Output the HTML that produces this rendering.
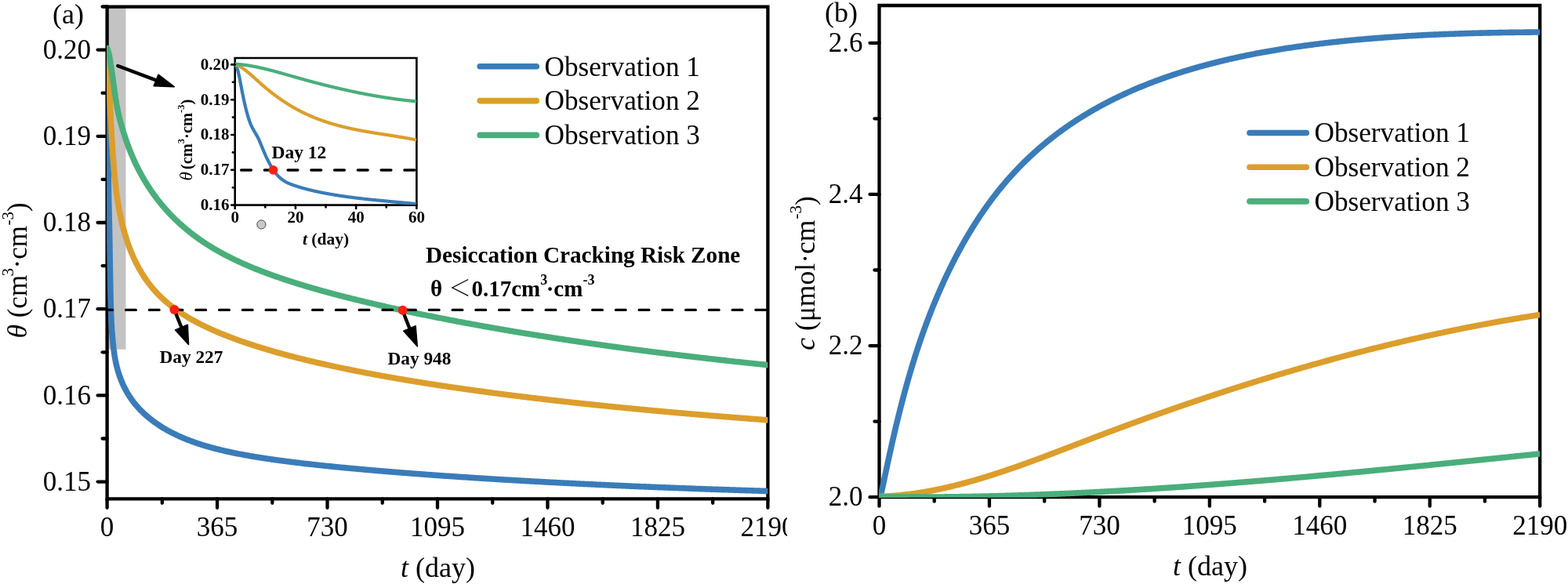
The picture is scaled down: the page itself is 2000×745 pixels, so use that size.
<!DOCTYPE html><html><head><meta charset="utf-8"><title>Figure</title><style>html,body{margin:0;padding:0;background:#fff;overflow:hidden;}svg{display:block;}text{font-family:"Liberation Serif","Times New Roman",serif;fill:#000;}</style></head><body>
<svg width="2000" height="745" viewBox="0 0 2000 745">
<rect width="2000" height="745" fill="#fff"/>
<defs><clipPath id="ca"><rect x="0" y="0" width="1004" height="745"/></clipPath><clipPath id="pa"><rect x="136.1" y="8.6" width="843.3" height="627.6999999999999"/></clipPath><clipPath id="pb"><rect x="1121.0" y="7.0" width="843.2" height="627.8000000000001"/></clipPath><clipPath id="pi"><rect x="299.3" y="74.0" width="232.1" height="187.60000000000002"/></clipPath></defs>
<g clip-path="url(#ca)">
<rect x="136.6" y="8.6" width="23.900000000000006" height="437.09999999999997" fill="#c3c3c3"/>
<path d="M136.6,636.3 V8.6 H979.4 V636.3 Z" fill="none" stroke="#000" stroke-width="4.3" stroke-linejoin="miter"/>
<g stroke="#000" stroke-width="4.3" stroke-linecap="round" fill="none">
<line x1="136.6" y1="614.60" x2="124.60" y2="614.60"/>
<line x1="136.6" y1="559.50" x2="130.60" y2="559.50"/>
<line x1="136.6" y1="504.40" x2="124.60" y2="504.40"/>
<line x1="136.6" y1="449.30" x2="130.60" y2="449.30"/>
<line x1="136.6" y1="394.20" x2="124.60" y2="394.20"/>
<line x1="136.6" y1="339.10" x2="130.60" y2="339.10"/>
<line x1="136.6" y1="284.00" x2="124.60" y2="284.00"/>
<line x1="136.6" y1="228.90" x2="130.60" y2="228.90"/>
<line x1="136.6" y1="173.80" x2="124.60" y2="173.80"/>
<line x1="136.6" y1="118.70" x2="130.60" y2="118.70"/>
<line x1="136.6" y1="63.60" x2="124.60" y2="63.60"/>
<line x1="136.6" y1="8.50" x2="130.60" y2="8.50"/>
<line x1="136.60" y1="636.3" x2="136.60" y2="647.80"/>
<line x1="206.83" y1="636.3" x2="206.83" y2="641.80"/>
<line x1="277.07" y1="636.3" x2="277.07" y2="647.80"/>
<line x1="347.30" y1="636.3" x2="347.30" y2="641.80"/>
<line x1="417.53" y1="636.3" x2="417.53" y2="647.80"/>
<line x1="487.77" y1="636.3" x2="487.77" y2="641.80"/>
<line x1="558.00" y1="636.3" x2="558.00" y2="647.80"/>
<line x1="628.23" y1="636.3" x2="628.23" y2="641.80"/>
<line x1="698.47" y1="636.3" x2="698.47" y2="647.80"/>
<line x1="768.70" y1="636.3" x2="768.70" y2="641.80"/>
<line x1="838.93" y1="636.3" x2="838.93" y2="647.80"/>
<line x1="909.17" y1="636.3" x2="909.17" y2="641.80"/>
<line x1="979.40" y1="636.3" x2="979.40" y2="647.80"/>
</g>
<g fill="none" stroke-width="7.6" stroke-linejoin="round" stroke-linecap="round" clip-path="url(#pa)">
<path d="M136.60,64.33 L136.65,64.52 L136.70,65.46 L136.74,67.10 L136.79,69.39 L136.84,72.28 L136.89,75.73 L136.94,79.67 L136.98,84.07 L137.03,88.88 L137.08,94.04 L137.13,99.51 L137.18,105.24 L137.23,111.17 L137.27,117.27 L137.32,123.48 L137.37,129.75 L137.42,136.03 L137.47,142.27 L137.51,148.43 L137.56,154.47 L137.61,160.38 L137.66,166.16 L137.71,171.81 L137.75,177.33 L137.80,182.71 L137.85,187.95 L137.90,193.05 L137.95,198.02 L138.00,202.85 L138.04,207.53 L138.09,212.07 L138.14,216.46 L138.19,220.70 L138.24,224.80 L138.28,228.75 L138.33,232.54 L138.38,236.18 L138.43,239.67 L138.48,243.00 L138.52,246.17 L138.57,249.18 L138.62,252.03 L138.67,254.74 L138.72,257.31 L138.76,259.76 L138.81,262.10 L138.86,264.35 L138.91,266.52 L138.96,268.62 L139.01,270.67 L139.05,272.68 L139.10,274.66 L139.15,276.63 L139.20,278.60 L139.25,280.58 L139.29,282.60 L139.34,284.65 L139.39,286.76 L139.44,288.94 L139.49,291.19 L139.53,293.55 L139.58,296.00 L139.63,298.55 L139.68,301.18 L139.73,303.89 L139.77,306.69 L139.82,309.55 L139.87,312.48 L139.92,315.45 L139.97,318.46 L140.02,321.49 L140.06,324.53 L140.11,327.56 L140.16,330.58 L140.21,333.57 L140.26,336.52 L140.30,339.44 L140.35,342.32 L140.40,345.16 L140.45,347.96 L140.50,350.71 L140.54,353.42 L140.59,356.08 L140.64,358.68 L140.69,361.24 L140.74,363.74 L140.79,366.19 L140.83,368.58 L140.88,370.92 L140.93,373.20 L140.98,375.42 L141.03,377.58 L141.07,379.69 L141.12,381.73 L141.17,383.72 L141.22,385.64 L141.27,387.51 L141.31,389.32 L141.36,391.07 L141.41,392.76 L141.46,394.39 L141.51,395.97 L141.55,397.48 L141.60,398.95 L141.65,400.36 L141.70,401.72 L141.75,403.04 L141.80,404.30 L141.84,405.52 L141.89,406.70 L141.94,407.83 L141.99,408.92 L142.04,409.98 L142.08,410.99 L142.13,411.97 L142.18,412.92 L142.23,413.84 L142.28,414.72 L142.32,415.58 L142.37,416.40 L142.42,417.20 L142.47,417.98 L142.52,418.74 L142.57,419.47 L142.61,420.18 L142.66,420.87 L142.71,421.55 L142.76,422.21 L142.81,422.85 L142.85,423.48 L142.90,424.09 L142.95,424.70 L143.00,425.29 L143.05,425.87 L143.09,426.44 L143.14,427.00 L143.19,427.56 L143.24,428.10 L143.29,428.64 L143.33,429.18 L143.38,429.71 L143.43,430.23 L143.48,430.75 L143.53,431.26 L143.58,431.77 L143.62,432.27 L143.67,432.78 L143.72,433.28 L143.77,433.77 L143.82,434.26 L143.86,434.75 L143.91,435.24 L143.96,435.72 L144.01,436.20 L144.06,436.68 L144.10,437.16 L144.15,437.63 L144.20,438.10 L144.25,438.57 L144.30,439.04 L144.34,439.50 L144.39,439.96 L144.44,440.41 L144.49,440.85 L144.54,441.29 L144.59,441.73 L144.63,442.16 L144.68,442.58 L144.73,443.00 L144.78,443.41 L144.83,443.82 L144.87,444.23 L144.92,444.63 L144.97,445.02 L145.02,445.41 L145.07,445.80 L145.11,446.18 L145.16,446.56 L145.21,446.93 L145.26,447.30 L145.31,447.67 L145.36,448.03 L145.40,448.39 L145.45,448.74 L145.50,449.09 L145.55,449.44 L145.60,449.78 L145.64,450.12 L145.69,450.46 L145.74,450.79 L145.79,451.12 L145.84,451.44 L145.88,451.77 L145.93,452.09 L145.98,452.40 L146.03,452.71 L146.08,453.02 L146.12,453.33 L146.17,453.64 L146.22,453.94 L146.27,454.24 L146.32,454.53 L146.37,454.83 L146.41,455.12 L146.46,455.40 L146.51,455.69 L146.56,455.97 L146.61,456.25 L146.65,456.53 L146.70,456.80 L146.75,457.08 L146.80,457.35 L146.85,457.61 L146.89,457.88 L146.94,458.14 L146.99,458.41 L147.04,458.66 L147.09,458.92 L147.13,459.18 L147.18,459.43 L147.23,459.68 L147.28,459.93 L147.33,460.18 L147.38,460.42 L147.42,460.66 L147.47,460.91 L147.52,461.15 L147.57,461.38 L147.62,461.62 L147.66,461.85 L147.71,462.09 L147.76,462.32 L147.81,462.54 L147.86,462.77 L147.90,463.00 L147.95,463.22 L148.00,463.44 L148.05,463.67 L148.10,463.88 L148.15,464.10 L148.19,464.32 L148.24,464.53 L148.29,464.75 L148.34,464.96 L148.39,465.17 L148.43,465.38 L148.48,465.59 L148.53,465.79 L148.58,466.00 L148.63,466.20 L148.67,466.41 L148.72,466.61 L148.77,466.81 L148.82,467.01 L148.87,467.20 L148.91,467.40 L148.96,467.60 L149.01,467.79 L149.06,467.98 L149.11,468.17 L149.16,468.37 L149.20,468.56 L149.25,468.74 L149.30,468.93 L149.35,469.12 L149.40,469.30 L149.44,469.49 L149.49,469.67 L149.54,469.85 L149.59,470.03 L149.64,470.21 L149.68,470.39 L149.73,470.57 L149.78,470.75 L149.83,470.93 L149.88,471.10 L149.93,471.28 L149.97,471.45 L150.02,471.62 L150.07,471.80 L150.12,471.97 L150.17,472.14 L150.21,472.31 L150.26,472.48 L150.31,472.64 L150.36,472.81 L150.41,472.98 L150.45,473.14 L150.50,473.31 L150.55,473.47 L150.60,473.63 L150.65,473.80 L150.69,473.96 L150.74,474.12 L150.79,474.28 L150.84,474.44 L150.89,474.60 L150.94,474.76 L150.98,474.91 L151.03,475.07 L151.08,475.23 L151.13,475.38 L151.18,475.54 L151.22,475.69 L151.27,475.84 L151.32,476.00 L151.37,476.15 L151.42,476.30 L151.46,476.45 L151.51,476.60 L151.56,476.75 L151.61,476.90 L151.66,477.05 L151.70,477.19 L151.75,477.34 L151.80,477.49 L151.85,477.63 L151.90,477.78 L151.95,477.92 L151.99,478.07 L152.04,478.21 L152.09,478.35 L152.14,478.50 L152.19,478.64 L152.23,478.78 L152.28,478.92 L152.33,479.06 L152.38,479.20 L152.43,479.34 L152.47,479.48 L152.52,479.62 L152.57,479.76 L152.62,479.89 L152.67,480.03 L152.72,480.17 L152.76,480.30 L152.81,480.44 L152.86,480.57 L152.91,480.71 L152.96,480.84 L153.00,480.98 L153.05,481.11 L153.10,481.24 L153.15,481.37 L153.20,481.51 L153.24,481.64 L153.29,481.77 L153.34,481.90 L153.39,482.03 L153.44,482.16 L153.48,482.29 L153.53,482.42 L153.58,482.54 L153.63,482.67 L153.68,482.80 L153.73,482.93 L153.77,483.05 L153.82,483.18 L153.87,483.31 L153.92,483.43 L153.97,483.56 L154.01,483.68 L154.06,483.81 L154.11,483.93 L154.16,484.05 L154.21,484.18 L154.25,484.30 L154.30,484.42 L154.35,484.54 L154.40,484.67 L154.45,484.79 L154.50,484.91 L154.54,485.03 L154.59,485.15 L154.64,485.27 L154.69,485.39 L154.74,485.51 L154.78,485.63 L154.83,485.74 L154.88,485.86 L154.93,485.98 L154.98,486.10 L155.02,486.22 L155.07,486.33 L155.12,486.45 L155.17,486.56 L155.22,486.68 L155.26,486.80 L155.31,486.91 L155.36,487.03 L155.41,487.14 L155.46,487.25 L155.51,487.37 L155.55,487.48 L155.60,487.60 L155.65,487.71 L155.70,487.82 L155.75,487.93 L155.79,488.05 L155.84,488.16 L155.89,488.27 L155.94,488.38 L155.99,488.49 L156.03,488.60 L156.08,488.71 L156.13,488.82 L156.18,488.93 L156.23,489.04 L156.27,489.15 L156.32,489.26 L156.37,489.37 L156.42,489.48 L156.47,489.58 L156.52,489.69 L156.56,489.80 L156.61,489.91 L156.66,490.01 L156.71,490.12 L156.76,490.23 L156.80,490.33 L156.85,490.44 L156.90,490.54 L156.95,490.65 L157.00,490.75 L157.04,490.86 L157.09,490.96 L157.14,491.07 L157.19,491.17 L157.24,491.27 L157.29,491.38 L157.33,491.48 L157.38,491.58 L157.43,491.69 L157.48,491.79 L157.53,491.89 L157.57,491.99 L157.62,492.10 L157.67,492.20 L157.72,492.30 L157.77,492.40 L157.81,492.50 L157.86,492.60 L157.91,492.70 L157.96,492.80 L158.01,492.90 L158.05,493.00 L158.10,493.10 L158.15,493.20 L158.20,493.30 L158.25,493.40 L158.30,493.49 L158.34,493.59 L158.39,493.69 L158.44,493.79 L158.49,493.89 L158.54,493.98 L158.58,494.08 L158.63,494.18 L158.68,494.27 L158.73,494.37 L158.78,494.47 L158.82,494.56 L158.87,494.66 L158.92,494.75 L158.97,494.85 L159.02,494.94 L159.07,495.04 L159.11,495.13 L159.16,495.23 L159.21,495.32 L159.26,495.42 L159.31,495.51 L159.35,495.60 L159.40,495.70 L159.45,495.79 L159.50,495.88 L159.55,495.98 L159.59,496.07 L159.64,496.16 L159.69,496.25 L159.88,496.62 L161.06,498.79 L162.23,500.86 L163.40,502.82 L164.57,504.71 L165.74,506.51 L166.92,508.24 L168.09,509.90 L169.26,511.50 L170.43,513.05 L171.61,514.54 L172.78,515.98 L173.95,517.37 L175.12,518.72 L176.30,520.03 L177.47,521.30 L178.64,522.54 L179.81,523.74 L180.99,524.91 L182.16,526.05 L183.33,527.17 L184.50,528.25 L185.68,529.31 L186.85,530.34 L188.02,531.35 L189.19,532.34 L190.37,533.31 L191.54,534.25 L192.71,535.18 L193.88,536.08 L195.06,536.97 L196.23,537.84 L197.40,538.69 L198.57,539.53 L199.74,540.35 L200.92,541.15 L202.09,541.94 L203.26,542.72 L204.43,543.48 L205.61,544.22 L206.78,544.96 L207.95,545.67 L209.12,546.38 L210.30,547.08 L211.47,547.76 L212.64,548.43 L213.81,549.09 L214.99,549.73 L216.16,550.37 L217.33,550.99 L218.50,551.61 L219.68,552.21 L220.85,552.81 L222.02,553.39 L223.19,553.97 L224.37,554.54 L225.54,555.09 L226.71,555.64 L227.88,556.18 L229.06,556.71 L230.23,557.23 L231.40,557.75 L232.57,558.25 L233.74,558.75 L234.92,559.24 L236.09,559.73 L237.26,560.20 L238.43,560.67 L239.61,561.13 L240.78,561.59 L241.95,562.04 L243.12,562.48 L244.30,562.91 L245.47,563.34 L246.64,563.76 L247.81,564.18 L248.99,564.59 L250.16,564.99 L251.33,565.39 L252.50,565.79 L253.68,566.17 L254.85,566.55 L256.02,566.93 L257.19,567.30 L258.37,567.67 L259.54,568.03 L260.71,568.39 L261.88,568.74 L263.06,569.09 L264.23,569.43 L265.40,569.77 L266.57,570.10 L267.74,570.43 L268.92,570.76 L270.09,571.08 L271.26,571.40 L272.43,571.71 L273.61,572.02 L274.78,572.32 L275.95,572.63 L277.12,572.92 L278.30,573.22 L279.47,573.51 L280.64,573.80 L281.81,574.08 L282.99,574.36 L284.16,574.64 L285.33,574.91 L286.50,575.18 L287.68,575.45 L288.85,575.72 L290.02,575.98 L291.19,576.24 L292.37,576.49 L293.54,576.75 L294.71,577.00 L295.88,577.24 L297.06,577.49 L298.23,577.73 L299.40,577.97 L300.57,578.21 L301.74,578.45 L302.92,578.68 L304.09,578.91 L305.26,579.14 L306.43,579.36 L307.61,579.59 L308.78,579.81 L309.95,580.03 L311.12,580.24 L312.30,580.46 L313.47,580.67 L314.64,580.88 L315.81,581.09 L316.99,581.30 L318.16,581.51 L319.33,581.71 L320.50,581.91 L321.68,582.11 L322.85,582.31 L324.02,582.51 L325.19,582.70 L326.37,582.89 L327.54,583.08 L328.71,583.27 L329.88,583.46 L331.06,583.65 L332.23,583.83 L333.40,584.02 L334.57,584.20 L335.74,584.38 L336.92,584.56 L338.09,584.74 L339.26,584.92 L340.43,585.09 L341.61,585.27 L342.78,585.44 L343.95,585.61 L345.12,585.78 L346.30,585.95 L347.47,586.12 L348.64,586.28 L349.81,586.45 L350.99,586.61 L352.16,586.78 L353.33,586.94 L354.50,587.10 L355.68,587.26 L356.85,587.42 L358.02,587.57 L359.19,587.73 L360.37,587.89 L361.54,588.04 L362.71,588.19 L363.88,588.35 L365.06,588.50 L366.23,588.65 L367.40,588.80 L368.57,588.95 L369.74,589.10 L370.92,589.24 L372.09,589.39 L373.26,589.54 L374.43,589.68 L375.61,589.82 L376.78,589.97 L377.95,590.11 L379.12,590.25 L380.30,590.39 L381.47,590.53 L382.64,590.67 L383.81,590.81 L384.99,590.95 L386.16,591.08 L387.33,591.22 L388.50,591.36 L389.68,591.49 L390.85,591.62 L392.02,591.76 L393.19,591.89 L394.37,592.02 L395.54,592.15 L396.71,592.29 L397.88,592.42 L399.06,592.54 L400.23,592.67 L401.40,592.80 L402.57,592.93 L403.74,593.06 L404.92,593.18 L406.09,593.31 L407.26,593.44 L408.43,593.56 L409.61,593.68 L410.78,593.81 L411.95,593.93 L413.12,594.05 L414.30,594.18 L415.47,594.30 L416.64,594.42 L417.81,594.54 L418.99,594.66 L420.16,594.78 L421.33,594.90 L422.50,595.02 L423.68,595.14 L424.85,595.25 L426.02,595.37 L427.19,595.49 L428.37,595.60 L429.54,595.72 L430.71,595.84 L431.88,595.95 L433.06,596.07 L434.23,596.18 L435.40,596.29 L436.57,596.41 L437.74,596.52 L438.92,596.63 L440.09,596.74 L441.26,596.86 L442.43,596.97 L443.61,597.08 L444.78,597.19 L445.95,597.30 L447.12,597.41 L448.30,597.52 L449.47,597.63 L450.64,597.73 L451.81,597.84 L452.99,597.95 L454.16,598.06 L455.33,598.16 L456.50,598.27 L457.68,598.38 L458.85,598.48 L460.02,598.59 L461.19,598.69 L462.37,598.80 L463.54,598.90 L464.71,599.01 L465.88,599.11 L467.06,599.22 L468.23,599.32 L469.40,599.42 L470.57,599.52 L471.74,599.63 L472.92,599.73 L474.09,599.83 L475.26,599.93 L476.43,600.03 L477.61,600.13 L478.78,600.23 L479.95,600.33 L481.12,600.43 L482.30,600.53 L483.47,600.63 L484.64,600.73 L485.81,600.83 L486.99,600.93 L488.16,601.03 L489.33,601.12 L490.50,601.22 L491.68,601.32 L492.85,601.41 L494.02,601.51 L495.19,601.61 L496.37,601.70 L497.54,601.80 L498.71,601.89 L499.88,601.99 L501.06,602.08 L502.23,602.18 L503.40,602.27 L504.57,602.37 L505.74,602.46 L506.92,602.55 L508.09,602.65 L509.26,602.74 L510.43,602.83 L511.61,602.93 L512.78,603.02 L513.95,603.11 L515.12,603.20 L516.30,603.29 L517.47,603.39 L518.64,603.48 L519.81,603.57 L520.99,603.66 L522.16,603.75 L523.33,603.84 L524.50,603.93 L525.68,604.02 L526.85,604.11 L528.02,604.20 L529.19,604.28 L530.37,604.37 L531.54,604.46 L532.71,604.55 L533.88,604.64 L535.06,604.73 L536.23,604.81 L537.40,604.90 L538.57,604.99 L539.74,605.07 L540.92,605.16 L542.09,605.25 L543.26,605.33 L544.43,605.42 L545.61,605.50 L546.78,605.59 L547.95,605.67 L549.12,605.76 L550.30,605.84 L551.47,605.93 L552.64,606.01 L553.81,606.10 L554.99,606.18 L556.16,606.26 L557.33,606.35 L558.50,606.43 L559.68,606.51 L560.85,606.60 L562.02,606.68 L563.19,606.76 L564.37,606.84 L565.54,606.93 L566.71,607.01 L567.88,607.09 L569.06,607.17 L570.23,607.25 L571.40,607.33 L572.57,607.41 L573.74,607.50 L574.92,607.58 L576.09,607.66 L577.26,607.74 L578.43,607.82 L579.61,607.90 L580.78,607.97 L581.95,608.05 L583.12,608.13 L584.30,608.21 L585.47,608.29 L586.64,608.37 L587.81,608.45 L588.99,608.52 L590.16,608.60 L591.33,608.68 L592.50,608.76 L593.68,608.83 L594.85,608.91 L596.02,608.99 L597.19,609.07 L598.37,609.14 L599.54,609.22 L600.71,609.29 L601.88,609.37 L603.06,609.45 L604.23,609.52 L605.40,609.60 L606.57,609.67 L607.74,609.75 L608.92,609.82 L610.09,609.90 L611.26,609.97 L612.43,610.05 L613.61,610.12 L614.78,610.19 L615.95,610.27 L617.12,610.34 L618.30,610.41 L619.47,610.49 L620.64,610.56 L621.81,610.63 L622.99,610.71 L624.16,610.78 L625.33,610.85 L626.50,610.92 L627.68,611.00 L628.85,611.07 L630.02,611.14 L631.19,611.21 L632.37,611.28 L633.54,611.35 L634.71,611.42 L635.88,611.50 L637.06,611.57 L638.23,611.64 L639.40,611.71 L640.57,611.78 L641.74,611.85 L642.92,611.92 L644.09,611.99 L645.26,612.06 L646.43,612.13 L647.61,612.19 L648.78,612.26 L649.95,612.33 L651.12,612.40 L652.30,612.47 L653.47,612.54 L654.64,612.61 L655.81,612.67 L656.99,612.74 L658.16,612.81 L659.33,612.88 L660.50,612.94 L661.68,613.01 L662.85,613.08 L664.02,613.15 L665.19,613.21 L666.37,613.28 L667.54,613.35 L668.71,613.41 L669.88,613.48 L671.06,613.54 L672.23,613.61 L673.40,613.67 L674.57,613.74 L675.74,613.81 L676.92,613.87 L678.09,613.94 L679.26,614.00 L680.43,614.07 L681.61,614.13 L682.78,614.19 L683.95,614.26 L685.12,614.32 L686.30,614.39 L687.47,614.45 L688.64,614.51 L689.81,614.58 L690.99,614.64 L692.16,614.70 L693.33,614.77 L694.50,614.83 L695.68,614.89 L696.85,614.96 L698.02,615.02 L699.19,615.08 L700.37,615.14 L701.54,615.20 L702.71,615.27 L703.88,615.33 L705.06,615.39 L706.23,615.45 L707.40,615.51 L708.57,615.57 L709.74,615.63 L710.92,615.70 L712.09,615.76 L713.26,615.82 L714.43,615.88 L715.61,615.94 L716.78,616.00 L717.95,616.06 L719.12,616.12 L720.30,616.18 L721.47,616.24 L722.64,616.30 L723.81,616.36 L724.99,616.41 L726.16,616.47 L727.33,616.53 L728.50,616.59 L729.68,616.65 L730.85,616.71 L732.02,616.77 L733.19,616.82 L734.37,616.88 L735.54,616.94 L736.71,617.00 L737.88,617.06 L739.06,617.11 L740.23,617.17 L741.40,617.23 L742.57,617.29 L743.74,617.34 L744.92,617.40 L746.09,617.46 L747.26,617.51 L748.43,617.57 L749.61,617.63 L750.78,617.68 L751.95,617.74 L753.12,617.79 L754.30,617.85 L755.47,617.91 L756.64,617.96 L757.81,618.02 L758.99,618.07 L760.16,618.13 L761.33,618.18 L762.50,618.24 L763.68,618.29 L764.85,618.35 L766.02,618.40 L767.19,618.45 L768.37,618.51 L769.54,618.56 L770.71,618.62 L771.88,618.67 L773.06,618.72 L774.23,618.78 L775.40,618.83 L776.57,618.89 L777.74,618.94 L778.92,618.99 L780.09,619.04 L781.26,619.10 L782.43,619.15 L783.61,619.20 L784.78,619.26 L785.95,619.31 L787.12,619.36 L788.30,619.41 L789.47,619.46 L790.64,619.52 L791.81,619.57 L792.99,619.62 L794.16,619.67 L795.33,619.72 L796.50,619.77 L797.68,619.82 L798.85,619.88 L800.02,619.93 L801.19,619.98 L802.37,620.03 L803.54,620.08 L804.71,620.13 L805.88,620.18 L807.06,620.23 L808.23,620.28 L809.40,620.33 L810.57,620.38 L811.74,620.43 L812.92,620.48 L814.09,620.53 L815.26,620.58 L816.43,620.63 L817.61,620.68 L818.78,620.73 L819.95,620.77 L821.12,620.82 L822.30,620.87 L823.47,620.92 L824.64,620.97 L825.81,621.02 L826.99,621.07 L828.16,621.11 L829.33,621.16 L830.50,621.21 L831.68,621.26 L832.85,621.31 L834.02,621.35 L835.19,621.40 L836.37,621.45 L837.54,621.49 L838.71,621.54 L839.88,621.59 L841.06,621.64 L842.23,621.68 L843.40,621.73 L844.57,621.78 L845.74,621.82 L846.92,621.87 L848.09,621.92 L849.26,621.96 L850.43,622.01 L851.61,622.05 L852.78,622.10 L853.95,622.15 L855.12,622.19 L856.30,622.24 L857.47,622.28 L858.64,622.33 L859.81,622.37 L860.99,622.42 L862.16,622.46 L863.33,622.51 L864.50,622.55 L865.68,622.60 L866.85,622.64 L868.02,622.69 L869.19,622.73 L870.37,622.77 L871.54,622.82 L872.71,622.86 L873.88,622.91 L875.06,622.95 L876.23,622.99 L877.40,623.04 L878.57,623.08 L879.74,623.12 L880.92,623.17 L882.09,623.21 L883.26,623.25 L884.43,623.30 L885.61,623.34 L886.78,623.38 L887.95,623.43 L889.12,623.47 L890.30,623.51 L891.47,623.55 L892.64,623.60 L893.81,623.64 L894.99,623.68 L896.16,623.72 L897.33,623.76 L898.50,623.81 L899.68,623.85 L900.85,623.89 L902.02,623.93 L903.19,623.97 L904.37,624.01 L905.54,624.06 L906.71,624.10 L907.88,624.14 L909.06,624.18 L910.23,624.22 L911.40,624.26 L912.57,624.30 L913.74,624.34 L914.92,624.38 L916.09,624.42 L917.26,624.46 L918.43,624.50 L919.61,624.54 L920.78,624.58 L921.95,624.62 L923.12,624.66 L924.30,624.70 L925.47,624.74 L926.64,624.78 L927.81,624.82 L928.99,624.86 L930.16,624.90 L931.33,624.94 L932.50,624.98 L933.68,625.02 L934.85,625.06 L936.02,625.09 L937.19,625.13 L938.37,625.17 L939.54,625.21 L940.71,625.25 L941.88,625.29 L943.06,625.33 L944.23,625.36 L945.40,625.40 L946.57,625.44 L947.74,625.48 L948.92,625.52 L950.09,625.55 L951.26,625.59 L952.43,625.63 L953.61,625.67 L954.78,625.70 L955.95,625.74 L957.12,625.78 L958.30,625.82 L959.47,625.85 L960.64,625.89 L961.81,625.93 L962.99,625.96 L964.16,626.00 L965.33,626.04 L966.50,626.07 L967.68,626.11 L968.85,626.15 L970.02,626.18 L971.19,626.22 L972.37,626.25 L973.54,626.29 L974.71,626.33 L975.88,626.36 L977.06,626.40 L978.23,626.43 L979.40,626.47" stroke="#3a7cb9"/>
<path d="M136.60,62.60 L136.65,63.02 L136.70,63.46 L136.74,63.92 L136.79,64.40 L136.84,64.91 L136.89,65.43 L136.94,65.98 L136.98,66.55 L137.03,67.14 L137.08,67.75 L137.13,68.38 L137.18,69.03 L137.23,69.70 L137.27,70.38 L137.32,71.08 L137.37,71.80 L137.42,72.54 L137.47,73.30 L137.51,74.07 L137.56,74.85 L137.61,75.66 L137.66,76.47 L137.71,77.30 L137.75,78.15 L137.80,79.01 L137.85,79.88 L137.90,80.77 L137.95,81.66 L138.00,82.57 L138.04,83.50 L138.09,84.43 L138.14,85.37 L138.19,86.33 L138.24,87.29 L138.28,88.26 L138.33,89.25 L138.38,90.24 L138.43,91.24 L138.48,92.24 L138.52,93.26 L138.57,94.28 L138.62,95.31 L138.67,96.35 L138.72,97.39 L138.76,98.43 L138.81,99.48 L138.86,100.54 L138.91,101.60 L138.96,102.66 L139.01,103.73 L139.05,104.80 L139.10,105.87 L139.15,106.95 L139.20,108.02 L139.25,109.10 L139.29,110.18 L139.34,111.26 L139.39,112.34 L139.44,113.41 L139.49,114.49 L139.53,115.57 L139.58,116.64 L139.63,117.71 L139.68,118.78 L139.73,119.85 L139.77,120.91 L139.82,121.97 L139.87,123.03 L139.92,124.08 L139.97,125.13 L140.02,126.17 L140.06,127.21 L140.11,128.24 L140.16,129.27 L140.21,130.30 L140.26,131.32 L140.30,132.34 L140.35,133.35 L140.40,134.36 L140.45,135.36 L140.50,136.36 L140.54,137.36 L140.59,138.35 L140.64,139.34 L140.69,140.32 L140.74,141.30 L140.79,142.27 L140.83,143.24 L140.88,144.20 L140.93,145.17 L140.98,146.12 L141.03,147.07 L141.07,148.02 L141.12,148.97 L141.17,149.90 L141.22,150.84 L141.27,151.77 L141.31,152.70 L141.36,153.62 L141.41,154.54 L141.46,155.45 L141.51,156.36 L141.55,157.26 L141.60,158.16 L141.65,159.06 L141.70,159.95 L141.75,160.84 L141.80,161.72 L141.84,162.60 L141.89,163.47 L141.94,164.34 L141.99,165.21 L142.04,166.07 L142.08,166.92 L142.13,167.78 L142.18,168.63 L142.23,169.47 L142.28,170.31 L142.32,171.14 L142.37,171.97 L142.42,172.80 L142.47,173.62 L142.52,174.45 L142.57,175.26 L142.61,176.08 L142.66,176.89 L142.71,177.70 L142.76,178.51 L142.81,179.31 L142.85,180.11 L142.90,180.91 L142.95,181.70 L143.00,182.49 L143.05,183.27 L143.09,184.05 L143.14,184.83 L143.19,185.60 L143.24,186.37 L143.29,187.14 L143.33,187.90 L143.38,188.66 L143.43,189.41 L143.48,190.16 L143.53,190.91 L143.58,191.65 L143.62,192.39 L143.67,193.12 L143.72,193.85 L143.77,194.57 L143.82,195.29 L143.86,196.01 L143.91,196.72 L143.96,197.42 L144.01,198.13 L144.06,198.83 L144.10,199.52 L144.15,200.21 L144.20,200.89 L144.25,201.57 L144.30,202.25 L144.34,202.92 L144.39,203.59 L144.44,204.25 L144.49,204.91 L144.54,205.56 L144.59,206.21 L144.63,206.85 L144.68,207.49 L144.73,208.13 L144.78,208.76 L144.83,209.39 L144.87,210.01 L144.92,210.62 L144.97,211.24 L145.02,211.84 L145.07,212.45 L145.11,213.05 L145.16,213.64 L145.21,214.23 L145.26,214.82 L145.31,215.40 L145.36,215.98 L145.40,216.55 L145.45,217.12 L145.50,217.68 L145.55,218.24 L145.60,218.80 L145.64,219.35 L145.69,219.89 L145.74,220.44 L145.79,220.97 L145.84,221.51 L145.88,222.04 L145.93,222.56 L145.98,223.08 L146.03,223.60 L146.08,224.11 L146.12,224.62 L146.17,225.13 L146.22,225.63 L146.27,226.13 L146.32,226.62 L146.37,227.11 L146.41,227.60 L146.46,228.08 L146.51,228.56 L146.56,229.03 L146.61,229.50 L146.65,229.97 L146.70,230.43 L146.75,230.89 L146.80,231.35 L146.85,231.80 L146.89,232.25 L146.94,232.69 L146.99,233.14 L147.04,233.57 L147.09,234.01 L147.13,234.44 L147.18,234.87 L147.23,235.30 L147.28,235.72 L147.33,236.14 L147.38,236.55 L147.42,236.97 L147.47,237.38 L147.52,237.78 L147.57,238.19 L147.62,238.59 L147.66,238.99 L147.71,239.38 L147.76,239.77 L147.81,240.16 L147.86,240.55 L147.90,240.93 L147.95,241.31 L148.00,241.69 L148.05,242.07 L148.10,242.44 L148.15,242.82 L148.19,243.18 L148.24,243.55 L148.29,243.91 L148.34,244.28 L148.39,244.64 L148.43,244.99 L148.48,245.35 L148.53,245.70 L148.58,246.05 L148.63,246.40 L148.67,246.75 L148.72,247.09 L148.77,247.43 L148.82,247.77 L148.87,248.11 L148.91,248.45 L148.96,248.78 L149.01,249.11 L149.06,249.45 L149.11,249.77 L149.16,250.10 L149.20,250.43 L149.25,250.75 L149.30,251.07 L149.35,251.39 L149.40,251.71 L149.44,252.03 L149.49,252.35 L149.54,252.66 L149.59,252.97 L149.64,253.29 L149.68,253.60 L149.73,253.90 L149.78,254.21 L149.83,254.52 L149.88,254.82 L149.93,255.13 L149.97,255.43 L150.02,255.73 L150.07,256.03 L150.12,256.33 L150.17,256.62 L150.21,256.92 L150.26,257.22 L150.31,257.51 L150.36,257.80 L150.41,258.09 L150.45,258.38 L150.50,258.67 L150.55,258.96 L150.60,259.25 L150.65,259.54 L150.69,259.82 L150.74,260.11 L150.79,260.39 L150.84,260.67 L150.89,260.95 L150.94,261.23 L150.98,261.51 L151.03,261.79 L151.08,262.07 L151.13,262.35 L151.18,262.62 L151.22,262.90 L151.27,263.17 L151.32,263.44 L151.37,263.72 L151.42,263.99 L151.46,264.26 L151.51,264.53 L151.56,264.80 L151.61,265.07 L151.66,265.33 L151.70,265.60 L151.75,265.86 L151.80,266.13 L151.85,266.39 L151.90,266.65 L151.95,266.92 L151.99,267.18 L152.04,267.44 L152.09,267.70 L152.14,267.96 L152.19,268.21 L152.23,268.47 L152.28,268.72 L152.33,268.98 L152.38,269.23 L152.43,269.48 L152.47,269.74 L152.52,269.99 L152.57,270.24 L152.62,270.49 L152.67,270.73 L152.72,270.98 L152.76,271.23 L152.81,271.47 L152.86,271.72 L152.91,271.96 L152.96,272.21 L153.00,272.45 L153.05,272.69 L153.10,272.93 L153.15,273.17 L153.20,273.41 L153.24,273.65 L153.29,273.88 L153.34,274.12 L153.39,274.36 L153.44,274.59 L153.48,274.82 L153.53,275.06 L153.58,275.29 L153.63,275.52 L153.68,275.75 L153.73,275.98 L153.77,276.21 L153.82,276.44 L153.87,276.67 L153.92,276.89 L153.97,277.12 L154.01,277.35 L154.06,277.57 L154.11,277.80 L154.16,278.02 L154.21,278.24 L154.25,278.46 L154.30,278.68 L154.35,278.91 L154.40,279.13 L154.45,279.34 L154.50,279.56 L154.54,279.78 L154.59,280.00 L154.64,280.21 L154.69,280.43 L154.74,280.64 L154.78,280.86 L154.83,281.07 L154.88,281.28 L154.93,281.50 L154.98,281.71 L155.02,281.92 L155.07,282.13 L155.12,282.34 L155.17,282.55 L155.22,282.76 L155.26,282.96 L155.31,283.17 L155.36,283.38 L155.41,283.58 L155.46,283.79 L155.51,283.99 L155.55,284.20 L155.60,284.40 L155.65,284.60 L155.70,284.81 L155.75,285.01 L155.79,285.21 L155.84,285.41 L155.89,285.61 L155.94,285.81 L155.99,286.01 L156.03,286.20 L156.08,286.40 L156.13,286.60 L156.18,286.79 L156.23,286.99 L156.27,287.19 L156.32,287.38 L156.37,287.57 L156.42,287.77 L156.47,287.96 L156.52,288.15 L156.56,288.34 L156.61,288.54 L156.66,288.73 L156.71,288.92 L156.76,289.11 L156.80,289.30 L156.85,289.48 L156.90,289.67 L156.95,289.86 L157.00,290.05 L157.04,290.23 L157.09,290.42 L157.14,290.60 L157.19,290.79 L157.24,290.97 L157.29,291.16 L157.33,291.34 L157.38,291.52 L157.43,291.71 L157.48,291.89 L157.53,292.07 L157.57,292.25 L157.62,292.43 L157.67,292.61 L157.72,292.79 L157.77,292.97 L157.81,293.15 L157.86,293.33 L157.91,293.50 L157.96,293.68 L158.01,293.86 L158.05,294.03 L158.10,294.21 L158.15,294.39 L158.20,294.56 L158.25,294.74 L158.30,294.91 L158.34,295.08 L158.39,295.26 L158.44,295.43 L158.49,295.60 L158.54,295.77 L158.58,295.94 L158.63,296.11 L158.68,296.28 L158.73,296.45 L158.78,296.62 L158.82,296.79 L158.87,296.96 L158.92,297.13 L158.97,297.30 L159.02,297.47 L159.07,297.63 L159.11,297.80 L159.16,297.97 L159.21,298.13 L159.26,298.30 L159.31,298.46 L159.35,298.63 L159.40,298.79 L159.45,298.96 L159.50,299.12 L159.55,299.28 L159.59,299.44 L159.64,299.61 L159.69,299.77 L159.88,300.41 L161.06,304.21 L162.23,307.80 L163.40,311.21 L164.57,314.46 L165.74,317.56 L166.92,320.53 L168.09,323.37 L169.26,326.10 L170.43,328.73 L171.61,331.25 L172.78,333.69 L173.95,336.04 L175.12,338.31 L176.30,340.51 L177.47,342.64 L178.64,344.70 L179.81,346.69 L180.99,348.63 L182.16,350.51 L183.33,352.34 L184.50,354.11 L185.68,355.83 L186.85,357.51 L188.02,359.14 L189.19,360.73 L190.37,362.27 L191.54,363.78 L192.71,365.25 L193.88,366.68 L195.06,368.08 L196.23,369.45 L197.40,370.78 L198.57,372.08 L199.74,373.35 L200.92,374.59 L202.09,375.81 L203.26,377.00 L204.43,378.16 L205.61,379.30 L206.78,380.42 L207.95,381.51 L209.12,382.58 L210.30,383.63 L211.47,384.66 L212.64,385.67 L213.81,386.66 L214.99,387.63 L216.16,388.58 L217.33,389.52 L218.50,390.44 L219.68,391.35 L220.85,392.24 L222.02,393.11 L223.19,393.97 L224.37,394.82 L225.54,395.65 L226.71,396.47 L227.88,397.28 L229.06,398.08 L230.23,398.86 L231.40,399.63 L232.57,400.39 L233.74,401.14 L234.92,401.88 L236.09,402.61 L237.26,403.33 L238.43,404.04 L239.61,404.74 L240.78,405.43 L241.95,406.12 L243.12,406.79 L244.30,407.46 L245.47,408.11 L246.64,408.76 L247.81,409.41 L248.99,410.04 L250.16,410.67 L251.33,411.29 L252.50,411.90 L253.68,412.51 L254.85,413.11 L256.02,413.70 L257.19,414.29 L258.37,414.87 L259.54,415.45 L260.71,416.02 L261.88,416.58 L263.06,417.14 L264.23,417.70 L265.40,418.25 L266.57,418.79 L267.74,419.33 L268.92,419.86 L270.09,420.39 L271.26,420.91 L272.43,421.43 L273.61,421.94 L274.78,422.45 L275.95,422.96 L277.12,423.46 L278.30,423.96 L279.47,424.45 L280.64,424.94 L281.81,425.43 L282.99,425.91 L284.16,426.38 L285.33,426.86 L286.50,427.33 L287.68,427.79 L288.85,428.26 L290.02,428.72 L291.19,429.17 L292.37,429.62 L293.54,430.07 L294.71,430.52 L295.88,430.96 L297.06,431.40 L298.23,431.84 L299.40,432.27 L300.57,432.70 L301.74,433.13 L302.92,433.55 L304.09,433.98 L305.26,434.39 L306.43,434.81 L307.61,435.22 L308.78,435.63 L309.95,436.04 L311.12,436.45 L312.30,436.85 L313.47,437.25 L314.64,437.65 L315.81,438.04 L316.99,438.44 L318.16,438.83 L319.33,439.22 L320.50,439.60 L321.68,439.98 L322.85,440.37 L324.02,440.74 L325.19,441.12 L326.37,441.50 L327.54,441.87 L328.71,442.24 L329.88,442.61 L331.06,442.97 L332.23,443.34 L333.40,443.70 L334.57,444.06 L335.74,444.42 L336.92,444.77 L338.09,445.13 L339.26,445.48 L340.43,445.83 L341.61,446.18 L342.78,446.52 L343.95,446.87 L345.12,447.21 L346.30,447.55 L347.47,447.89 L348.64,448.23 L349.81,448.56 L350.99,448.90 L352.16,449.23 L353.33,449.56 L354.50,449.89 L355.68,450.22 L356.85,450.54 L358.02,450.87 L359.19,451.19 L360.37,451.51 L361.54,451.83 L362.71,452.15 L363.88,452.47 L365.06,452.78 L366.23,453.09 L367.40,453.41 L368.57,453.72 L369.74,454.03 L370.92,454.33 L372.09,454.64 L373.26,454.94 L374.43,455.25 L375.61,455.55 L376.78,455.85 L377.95,456.15 L379.12,456.45 L380.30,456.74 L381.47,457.04 L382.64,457.33 L383.81,457.63 L384.99,457.92 L386.16,458.21 L387.33,458.50 L388.50,458.78 L389.68,459.07 L390.85,459.36 L392.02,459.64 L393.19,459.92 L394.37,460.20 L395.54,460.48 L396.71,460.76 L397.88,461.04 L399.06,461.32 L400.23,461.59 L401.40,461.87 L402.57,462.14 L403.74,462.41 L404.92,462.69 L406.09,462.96 L407.26,463.23 L408.43,463.49 L409.61,463.76 L410.78,464.03 L411.95,464.29 L413.12,464.56 L414.30,464.82 L415.47,465.08 L416.64,465.34 L417.81,465.60 L418.99,465.86 L420.16,466.12 L421.33,466.38 L422.50,466.63 L423.68,466.89 L424.85,467.14 L426.02,467.39 L427.19,467.65 L428.37,467.90 L429.54,468.15 L430.71,468.40 L431.88,468.64 L433.06,468.89 L434.23,469.14 L435.40,469.38 L436.57,469.63 L437.74,469.87 L438.92,470.12 L440.09,470.36 L441.26,470.60 L442.43,470.84 L443.61,471.08 L444.78,471.32 L445.95,471.56 L447.12,471.80 L448.30,472.03 L449.47,472.27 L450.64,472.50 L451.81,472.74 L452.99,472.97 L454.16,473.20 L455.33,473.43 L456.50,473.66 L457.68,473.89 L458.85,474.12 L460.02,474.35 L461.19,474.58 L462.37,474.81 L463.54,475.03 L464.71,475.26 L465.88,475.48 L467.06,475.71 L468.23,475.93 L469.40,476.15 L470.57,476.38 L471.74,476.60 L472.92,476.82 L474.09,477.04 L475.26,477.26 L476.43,477.48 L477.61,477.69 L478.78,477.91 L479.95,478.13 L481.12,478.34 L482.30,478.56 L483.47,478.77 L484.64,478.99 L485.81,479.20 L486.99,479.41 L488.16,479.62 L489.33,479.83 L490.50,480.04 L491.68,480.25 L492.85,480.46 L494.02,480.67 L495.19,480.88 L496.37,481.09 L497.54,481.29 L498.71,481.50 L499.88,481.71 L501.06,481.91 L502.23,482.11 L503.40,482.32 L504.57,482.52 L505.74,482.72 L506.92,482.93 L508.09,483.13 L509.26,483.33 L510.43,483.53 L511.61,483.73 L512.78,483.93 L513.95,484.12 L515.12,484.32 L516.30,484.52 L517.47,484.72 L518.64,484.91 L519.81,485.11 L520.99,485.30 L522.16,485.50 L523.33,485.69 L524.50,485.89 L525.68,486.08 L526.85,486.27 L528.02,486.46 L529.19,486.65 L530.37,486.85 L531.54,487.04 L532.71,487.23 L533.88,487.41 L535.06,487.60 L536.23,487.79 L537.40,487.98 L538.57,488.17 L539.74,488.35 L540.92,488.54 L542.09,488.72 L543.26,488.91 L544.43,489.09 L545.61,489.28 L546.78,489.46 L547.95,489.65 L549.12,489.83 L550.30,490.01 L551.47,490.19 L552.64,490.37 L553.81,490.56 L554.99,490.74 L556.16,490.92 L557.33,491.09 L558.50,491.27 L559.68,491.45 L560.85,491.63 L562.02,491.81 L563.19,491.99 L564.37,492.16 L565.54,492.34 L566.71,492.51 L567.88,492.69 L569.06,492.86 L570.23,493.04 L571.40,493.21 L572.57,493.39 L573.74,493.56 L574.92,493.73 L576.09,493.90 L577.26,494.08 L578.43,494.25 L579.61,494.42 L580.78,494.59 L581.95,494.76 L583.12,494.93 L584.30,495.10 L585.47,495.27 L586.64,495.44 L587.81,495.60 L588.99,495.77 L590.16,495.94 L591.33,496.11 L592.50,496.27 L593.68,496.44 L594.85,496.60 L596.02,496.77 L597.19,496.93 L598.37,497.10 L599.54,497.26 L600.71,497.43 L601.88,497.59 L603.06,497.75 L604.23,497.92 L605.40,498.08 L606.57,498.24 L607.74,498.40 L608.92,498.56 L610.09,498.72 L611.26,498.88 L612.43,499.04 L613.61,499.20 L614.78,499.36 L615.95,499.52 L617.12,499.68 L618.30,499.84 L619.47,499.99 L620.64,500.15 L621.81,500.31 L622.99,500.46 L624.16,500.62 L625.33,500.78 L626.50,500.93 L627.68,501.09 L628.85,501.24 L630.02,501.40 L631.19,501.55 L632.37,501.70 L633.54,501.86 L634.71,502.01 L635.88,502.16 L637.06,502.32 L638.23,502.47 L639.40,502.62 L640.57,502.77 L641.74,502.92 L642.92,503.07 L644.09,503.22 L645.26,503.37 L646.43,503.52 L647.61,503.67 L648.78,503.82 L649.95,503.97 L651.12,504.12 L652.30,504.26 L653.47,504.41 L654.64,504.56 L655.81,504.71 L656.99,504.85 L658.16,505.00 L659.33,505.15 L660.50,505.29 L661.68,505.44 L662.85,505.58 L664.02,505.73 L665.19,505.87 L666.37,506.01 L667.54,506.16 L668.71,506.30 L669.88,506.45 L671.06,506.59 L672.23,506.73 L673.40,506.87 L674.57,507.01 L675.74,507.16 L676.92,507.30 L678.09,507.44 L679.26,507.58 L680.43,507.72 L681.61,507.86 L682.78,508.00 L683.95,508.14 L685.12,508.28 L686.30,508.42 L687.47,508.56 L688.64,508.69 L689.81,508.83 L690.99,508.97 L692.16,509.11 L693.33,509.24 L694.50,509.38 L695.68,509.52 L696.85,509.65 L698.02,509.79 L699.19,509.93 L700.37,510.06 L701.54,510.20 L702.71,510.33 L703.88,510.47 L705.06,510.60 L706.23,510.73 L707.40,510.87 L708.57,511.00 L709.74,511.13 L710.92,511.27 L712.09,511.40 L713.26,511.53 L714.43,511.66 L715.61,511.80 L716.78,511.93 L717.95,512.06 L719.12,512.19 L720.30,512.32 L721.47,512.45 L722.64,512.58 L723.81,512.71 L724.99,512.84 L726.16,512.97 L727.33,513.10 L728.50,513.23 L729.68,513.36 L730.85,513.49 L732.02,513.61 L733.19,513.74 L734.37,513.87 L735.54,514.00 L736.71,514.12 L737.88,514.25 L739.06,514.38 L740.23,514.50 L741.40,514.63 L742.57,514.75 L743.74,514.88 L744.92,515.01 L746.09,515.13 L747.26,515.26 L748.43,515.38 L749.61,515.50 L750.78,515.63 L751.95,515.75 L753.12,515.88 L754.30,516.00 L755.47,516.12 L756.64,516.24 L757.81,516.37 L758.99,516.49 L760.16,516.61 L761.33,516.73 L762.50,516.86 L763.68,516.98 L764.85,517.10 L766.02,517.22 L767.19,517.34 L768.37,517.46 L769.54,517.58 L770.71,517.70 L771.88,517.82 L773.06,517.94 L774.23,518.06 L775.40,518.18 L776.57,518.30 L777.74,518.41 L778.92,518.53 L780.09,518.65 L781.26,518.77 L782.43,518.89 L783.61,519.00 L784.78,519.12 L785.95,519.24 L787.12,519.35 L788.30,519.47 L789.47,519.59 L790.64,519.70 L791.81,519.82 L792.99,519.93 L794.16,520.05 L795.33,520.17 L796.50,520.28 L797.68,520.40 L798.85,520.51 L800.02,520.62 L801.19,520.74 L802.37,520.85 L803.54,520.97 L804.71,521.08 L805.88,521.19 L807.06,521.30 L808.23,521.42 L809.40,521.53 L810.57,521.64 L811.74,521.75 L812.92,521.87 L814.09,521.98 L815.26,522.09 L816.43,522.20 L817.61,522.31 L818.78,522.42 L819.95,522.53 L821.12,522.64 L822.30,522.75 L823.47,522.86 L824.64,522.97 L825.81,523.08 L826.99,523.19 L828.16,523.30 L829.33,523.41 L830.50,523.52 L831.68,523.63 L832.85,523.74 L834.02,523.85 L835.19,523.95 L836.37,524.06 L837.54,524.17 L838.71,524.28 L839.88,524.38 L841.06,524.49 L842.23,524.60 L843.40,524.70 L844.57,524.81 L845.74,524.92 L846.92,525.02 L848.09,525.13 L849.26,525.23 L850.43,525.34 L851.61,525.44 L852.78,525.55 L853.95,525.65 L855.12,525.76 L856.30,525.86 L857.47,525.97 L858.64,526.07 L859.81,526.18 L860.99,526.28 L862.16,526.38 L863.33,526.49 L864.50,526.59 L865.68,526.69 L866.85,526.80 L868.02,526.90 L869.19,527.00 L870.37,527.10 L871.54,527.20 L872.71,527.31 L873.88,527.41 L875.06,527.51 L876.23,527.61 L877.40,527.71 L878.57,527.81 L879.74,527.91 L880.92,528.01 L882.09,528.11 L883.26,528.21 L884.43,528.31 L885.61,528.41 L886.78,528.51 L887.95,528.61 L889.12,528.71 L890.30,528.81 L891.47,528.91 L892.64,529.01 L893.81,529.11 L894.99,529.21 L896.16,529.30 L897.33,529.40 L898.50,529.50 L899.68,529.60 L900.85,529.70 L902.02,529.79 L903.19,529.89 L904.37,529.99 L905.54,530.08 L906.71,530.18 L907.88,530.28 L909.06,530.37 L910.23,530.47 L911.40,530.57 L912.57,530.66 L913.74,530.76 L914.92,530.85 L916.09,530.95 L917.26,531.04 L918.43,531.14 L919.61,531.23 L920.78,531.33 L921.95,531.42 L923.12,531.52 L924.30,531.61 L925.47,531.71 L926.64,531.80 L927.81,531.89 L928.99,531.99 L930.16,532.08 L931.33,532.17 L932.50,532.27 L933.68,532.36 L934.85,532.45 L936.02,532.54 L937.19,532.64 L938.37,532.73 L939.54,532.82 L940.71,532.91 L941.88,533.00 L943.06,533.10 L944.23,533.19 L945.40,533.28 L946.57,533.37 L947.74,533.46 L948.92,533.55 L950.09,533.64 L951.26,533.73 L952.43,533.82 L953.61,533.91 L954.78,534.00 L955.95,534.09 L957.12,534.18 L958.30,534.27 L959.47,534.36 L960.64,534.45 L961.81,534.54 L962.99,534.63 L964.16,534.72 L965.33,534.81 L966.50,534.90 L967.68,534.98 L968.85,535.07 L970.02,535.16 L971.19,535.25 L972.37,535.34 L973.54,535.42 L974.71,535.51 L975.88,535.60 L977.06,535.69 L978.23,535.77 L979.40,535.86" stroke="#dc9e2c"/>
<path d="M136.60,61.60 L136.65,61.68 L136.70,61.76 L136.74,61.85 L136.79,61.94 L136.84,62.03 L136.89,62.13 L136.94,62.23 L136.98,62.34 L137.03,62.44 L137.08,62.55 L137.13,62.67 L137.18,62.79 L137.23,62.91 L137.27,63.03 L137.32,63.16 L137.37,63.29 L137.42,63.42 L137.47,63.56 L137.51,63.70 L137.56,63.84 L137.61,63.99 L137.66,64.14 L137.71,64.29 L137.75,64.45 L137.80,64.60 L137.85,64.77 L137.90,64.93 L137.95,65.10 L138.00,65.27 L138.04,65.44 L138.09,65.62 L138.14,65.79 L138.19,65.98 L138.24,66.16 L138.28,66.35 L138.33,66.54 L138.38,66.73 L138.43,66.92 L138.48,67.12 L138.52,67.32 L138.57,67.52 L138.62,67.73 L138.67,67.93 L138.72,68.14 L138.76,68.36 L138.81,68.57 L138.86,68.79 L138.91,69.01 L138.96,69.23 L139.01,69.46 L139.05,69.68 L139.10,69.91 L139.15,70.15 L139.20,70.38 L139.25,70.62 L139.29,70.85 L139.34,71.10 L139.39,71.34 L139.44,71.58 L139.49,71.83 L139.53,72.08 L139.58,72.33 L139.63,72.58 L139.68,72.84 L139.73,73.10 L139.77,73.36 L139.82,73.62 L139.87,73.88 L139.92,74.15 L139.97,74.41 L140.02,74.68 L140.06,74.95 L140.11,75.23 L140.16,75.50 L140.21,75.78 L140.26,76.05 L140.30,76.33 L140.35,76.62 L140.40,76.90 L140.45,77.18 L140.50,77.47 L140.54,77.76 L140.59,78.05 L140.64,78.34 L140.69,78.63 L140.74,78.92 L140.79,79.22 L140.83,79.52 L140.88,79.81 L140.93,80.11 L140.98,80.42 L141.03,80.72 L141.07,81.02 L141.12,81.33 L141.17,81.63 L141.22,81.94 L141.27,82.25 L141.31,82.56 L141.36,82.87 L141.41,83.18 L141.46,83.50 L141.51,83.81 L141.55,84.13 L141.60,84.44 L141.65,84.76 L141.70,85.08 L141.75,85.40 L141.80,85.72 L141.84,86.04 L141.89,86.37 L141.94,86.69 L141.99,87.01 L142.04,87.34 L142.08,87.66 L142.13,87.99 L142.18,88.32 L142.23,88.65 L142.28,88.98 L142.32,89.31 L142.37,89.64 L142.42,89.97 L142.47,90.30 L142.52,90.63 L142.57,90.97 L142.61,91.30 L142.66,91.63 L142.71,91.97 L142.76,92.30 L142.81,92.64 L142.85,92.97 L142.90,93.31 L142.95,93.65 L143.00,93.98 L143.05,94.32 L143.09,94.66 L143.14,95.00 L143.19,95.34 L143.24,95.67 L143.29,96.01 L143.33,96.35 L143.38,96.69 L143.43,97.03 L143.48,97.37 L143.53,97.71 L143.58,98.05 L143.62,98.39 L143.67,98.73 L143.72,99.07 L143.77,99.41 L143.82,99.75 L143.86,100.09 L143.91,100.43 L143.96,100.76 L144.01,101.10 L144.06,101.44 L144.10,101.78 L144.15,102.12 L144.20,102.46 L144.25,102.80 L144.30,103.13 L144.34,103.47 L144.39,103.81 L144.44,104.15 L144.49,104.49 L144.54,104.83 L144.59,105.18 L144.63,105.52 L144.68,105.86 L144.73,106.21 L144.78,106.55 L144.83,106.90 L144.87,107.24 L144.92,107.59 L144.97,107.94 L145.02,108.28 L145.07,108.63 L145.11,108.98 L145.16,109.33 L145.21,109.67 L145.26,110.02 L145.31,110.37 L145.36,110.72 L145.40,111.07 L145.45,111.41 L145.50,111.76 L145.55,112.11 L145.60,112.46 L145.64,112.81 L145.69,113.15 L145.74,113.50 L145.79,113.85 L145.84,114.19 L145.88,114.54 L145.93,114.89 L145.98,115.23 L146.03,115.58 L146.08,115.92 L146.12,116.26 L146.17,116.61 L146.22,116.95 L146.27,117.29 L146.32,117.63 L146.37,117.97 L146.41,118.31 L146.46,118.65 L146.51,118.99 L146.56,119.33 L146.61,119.67 L146.65,120.00 L146.70,120.34 L146.75,120.67 L146.80,121.01 L146.85,121.34 L146.89,121.67 L146.94,122.00 L146.99,122.33 L147.04,122.66 L147.09,122.98 L147.13,123.31 L147.18,123.63 L147.23,123.96 L147.28,124.28 L147.33,124.60 L147.38,124.92 L147.42,125.24 L147.47,125.56 L147.52,125.87 L147.57,126.19 L147.62,126.50 L147.66,126.82 L147.71,127.13 L147.76,127.44 L147.81,127.74 L147.86,128.05 L147.90,128.36 L147.95,128.66 L148.00,128.96 L148.05,129.27 L148.10,129.57 L148.15,129.86 L148.19,130.16 L148.24,130.46 L148.29,130.75 L148.34,131.04 L148.39,131.33 L148.43,131.62 L148.48,131.91 L148.53,132.20 L148.58,132.48 L148.63,132.77 L148.67,133.05 L148.72,133.33 L148.77,133.61 L148.82,133.88 L148.87,134.16 L148.91,134.43 L148.96,134.71 L149.01,134.98 L149.06,135.25 L149.11,135.51 L149.16,135.78 L149.20,136.04 L149.25,136.31 L149.30,136.57 L149.35,136.83 L149.40,137.09 L149.44,137.34 L149.49,137.60 L149.54,137.85 L149.59,138.11 L149.64,138.36 L149.68,138.61 L149.73,138.85 L149.78,139.10 L149.83,139.34 L149.88,139.59 L149.93,139.83 L149.97,140.07 L150.02,140.31 L150.07,140.55 L150.12,140.78 L150.17,141.02 L150.21,141.25 L150.26,141.48 L150.31,141.71 L150.36,141.94 L150.41,142.17 L150.45,142.39 L150.50,142.62 L150.55,142.84 L150.60,143.06 L150.65,143.28 L150.69,143.50 L150.74,143.72 L150.79,143.93 L150.84,144.15 L150.89,144.36 L150.94,144.58 L150.98,144.79 L151.03,145.00 L151.08,145.21 L151.13,145.42 L151.18,145.62 L151.22,145.83 L151.27,146.03 L151.32,146.24 L151.37,146.44 L151.42,146.64 L151.46,146.84 L151.51,147.04 L151.56,147.24 L151.61,147.43 L151.66,147.63 L151.70,147.83 L151.75,148.02 L151.80,148.21 L151.85,148.41 L151.90,148.60 L151.95,148.79 L151.99,148.98 L152.04,149.17 L152.09,149.36 L152.14,149.55 L152.19,149.73 L152.23,149.92 L152.28,150.11 L152.33,150.29 L152.38,150.48 L152.43,150.66 L152.47,150.84 L152.52,151.03 L152.57,151.21 L152.62,151.39 L152.67,151.57 L152.72,151.75 L152.76,151.93 L152.81,152.11 L152.86,152.29 L152.91,152.47 L152.96,152.65 L153.00,152.83 L153.05,153.01 L153.10,153.19 L153.15,153.37 L153.20,153.54 L153.24,153.72 L153.29,153.90 L153.34,154.07 L153.39,154.25 L153.44,154.43 L153.48,154.61 L153.53,154.78 L153.58,154.96 L153.63,155.14 L153.68,155.31 L153.73,155.49 L153.77,155.67 L153.82,155.85 L153.87,156.02 L153.92,156.20 L153.97,156.38 L154.01,156.55 L154.06,156.73 L154.11,156.91 L154.16,157.08 L154.21,157.26 L154.25,157.43 L154.30,157.61 L154.35,157.78 L154.40,157.96 L154.45,158.13 L154.50,158.31 L154.54,158.48 L154.59,158.65 L154.64,158.83 L154.69,159.00 L154.74,159.17 L154.78,159.34 L154.83,159.52 L154.88,159.69 L154.93,159.86 L154.98,160.03 L155.02,160.20 L155.07,160.37 L155.12,160.54 L155.17,160.71 L155.22,160.88 L155.26,161.05 L155.31,161.22 L155.36,161.38 L155.41,161.55 L155.46,161.72 L155.51,161.89 L155.55,162.06 L155.60,162.22 L155.65,162.39 L155.70,162.56 L155.75,162.72 L155.79,162.89 L155.84,163.05 L155.89,163.22 L155.94,163.38 L155.99,163.55 L156.03,163.71 L156.08,163.88 L156.13,164.04 L156.18,164.20 L156.23,164.37 L156.27,164.53 L156.32,164.69 L156.37,164.85 L156.42,165.02 L156.47,165.18 L156.52,165.34 L156.56,165.50 L156.61,165.66 L156.66,165.82 L156.71,165.98 L156.76,166.14 L156.80,166.30 L156.85,166.46 L156.90,166.62 L156.95,166.78 L157.00,166.94 L157.04,167.10 L157.09,167.26 L157.14,167.42 L157.19,167.57 L157.24,167.73 L157.29,167.89 L157.33,168.04 L157.38,168.20 L157.43,168.36 L157.48,168.51 L157.53,168.67 L157.57,168.83 L157.62,168.98 L157.67,169.14 L157.72,169.29 L157.77,169.45 L157.81,169.60 L157.86,169.76 L157.91,169.91 L157.96,170.06 L158.01,170.22 L158.05,170.37 L158.10,170.52 L158.15,170.68 L158.20,170.83 L158.25,170.98 L158.30,171.13 L158.34,171.28 L158.39,171.43 L158.44,171.59 L158.49,171.74 L158.54,171.89 L158.58,172.04 L158.63,172.19 L158.68,172.34 L158.73,172.49 L158.78,172.64 L158.82,172.79 L158.87,172.94 L158.92,173.09 L158.97,173.23 L159.02,173.38 L159.07,173.53 L159.11,173.68 L159.16,173.83 L159.21,173.97 L159.26,174.12 L159.31,174.27 L159.35,174.41 L159.40,174.56 L159.45,174.71 L159.50,174.85 L159.55,175.00 L159.59,175.14 L159.64,175.29 L159.69,175.43 L159.88,176.01 L161.06,179.46 L162.23,182.79 L163.40,186.00 L164.57,189.10 L165.74,192.10 L166.92,195.01 L168.09,197.83 L169.26,200.56 L170.43,203.22 L171.61,205.81 L172.78,208.32 L173.95,210.77 L175.12,213.15 L176.30,215.48 L177.47,217.75 L178.64,219.97 L179.81,222.13 L180.99,224.25 L182.16,226.32 L183.33,228.35 L184.50,230.33 L185.68,232.27 L186.85,234.18 L188.02,236.04 L189.19,237.87 L190.37,239.67 L191.54,241.43 L192.71,243.16 L193.88,244.86 L195.06,246.53 L196.23,248.17 L197.40,249.78 L198.57,251.37 L199.74,252.92 L200.92,254.45 L202.09,255.96 L203.26,257.44 L204.43,258.90 L205.61,260.34 L206.78,261.75 L207.95,263.14 L209.12,264.51 L210.30,265.86 L211.47,267.19 L212.64,268.50 L213.81,269.80 L214.99,271.07 L216.16,272.32 L217.33,273.56 L218.50,274.78 L219.68,275.98 L220.85,277.16 L222.02,278.33 L223.19,279.48 L224.37,280.62 L225.54,281.74 L226.71,282.85 L227.88,283.94 L229.06,285.02 L230.23,286.08 L231.40,287.13 L232.57,288.16 L233.74,289.19 L234.92,290.20 L236.09,291.19 L237.26,292.18 L238.43,293.15 L239.61,294.11 L240.78,295.06 L241.95,295.99 L243.12,296.92 L244.30,297.83 L245.47,298.74 L246.64,299.63 L247.81,300.51 L248.99,301.38 L250.16,302.24 L251.33,303.09 L252.50,303.94 L253.68,304.77 L254.85,305.59 L256.02,306.40 L257.19,307.21 L258.37,308.00 L259.54,308.79 L260.71,309.57 L261.88,310.34 L263.06,311.10 L264.23,311.85 L265.40,312.60 L266.57,313.34 L267.74,314.07 L268.92,314.79 L270.09,315.50 L271.26,316.21 L272.43,316.91 L273.61,317.60 L274.78,318.29 L275.95,318.97 L277.12,319.64 L278.30,320.31 L279.47,320.97 L280.64,321.62 L281.81,322.27 L282.99,322.91 L284.16,323.55 L285.33,324.18 L286.50,324.80 L287.68,325.42 L288.85,326.03 L290.02,326.63 L291.19,327.23 L292.37,327.83 L293.54,328.42 L294.71,329.01 L295.88,329.59 L297.06,330.16 L298.23,330.73 L299.40,331.30 L300.57,331.86 L301.74,332.41 L302.92,332.96 L304.09,333.51 L305.26,334.05 L306.43,334.59 L307.61,335.12 L308.78,335.65 L309.95,336.18 L311.12,336.70 L312.30,337.22 L313.47,337.73 L314.64,338.24 L315.81,338.75 L316.99,339.25 L318.16,339.74 L319.33,340.24 L320.50,340.73 L321.68,341.22 L322.85,341.70 L324.02,342.18 L325.19,342.66 L326.37,343.13 L327.54,343.60 L328.71,344.07 L329.88,344.53 L331.06,344.99 L332.23,345.45 L333.40,345.90 L334.57,346.36 L335.74,346.81 L336.92,347.25 L338.09,347.69 L339.26,348.13 L340.43,348.57 L341.61,349.01 L342.78,349.44 L343.95,349.87 L345.12,350.29 L346.30,350.72 L347.47,351.14 L348.64,351.56 L349.81,351.98 L350.99,352.39 L352.16,352.80 L353.33,353.21 L354.50,353.62 L355.68,354.02 L356.85,354.43 L358.02,354.83 L359.19,355.22 L360.37,355.62 L361.54,356.01 L362.71,356.41 L363.88,356.80 L365.06,357.18 L366.23,357.57 L367.40,357.95 L368.57,358.34 L369.74,358.72 L370.92,359.09 L372.09,359.47 L373.26,359.84 L374.43,360.22 L375.61,360.59 L376.78,360.96 L377.95,361.32 L379.12,361.69 L380.30,362.05 L381.47,362.41 L382.64,362.78 L383.81,363.13 L384.99,363.49 L386.16,363.85 L387.33,364.20 L388.50,364.55 L389.68,364.90 L390.85,365.25 L392.02,365.60 L393.19,365.95 L394.37,366.29 L395.54,366.64 L396.71,366.98 L397.88,367.32 L399.06,367.66 L400.23,368.00 L401.40,368.33 L402.57,368.67 L403.74,369.00 L404.92,369.33 L406.09,369.66 L407.26,369.99 L408.43,370.32 L409.61,370.65 L410.78,370.98 L411.95,371.30 L413.12,371.63 L414.30,371.95 L415.47,372.27 L416.64,372.59 L417.81,372.91 L418.99,373.23 L420.16,373.54 L421.33,373.86 L422.50,374.17 L423.68,374.49 L424.85,374.80 L426.02,375.11 L427.19,375.42 L428.37,375.73 L429.54,376.04 L430.71,376.34 L431.88,376.65 L433.06,376.95 L434.23,377.26 L435.40,377.56 L436.57,377.86 L437.74,378.16 L438.92,378.46 L440.09,378.76 L441.26,379.06 L442.43,379.36 L443.61,379.66 L444.78,379.95 L445.95,380.25 L447.12,380.54 L448.30,380.83 L449.47,381.12 L450.64,381.41 L451.81,381.70 L452.99,381.99 L454.16,382.28 L455.33,382.57 L456.50,382.86 L457.68,383.14 L458.85,383.43 L460.02,383.71 L461.19,383.99 L462.37,384.28 L463.54,384.56 L464.71,384.84 L465.88,385.12 L467.06,385.40 L468.23,385.68 L469.40,385.96 L470.57,386.23 L471.74,386.51 L472.92,386.79 L474.09,387.06 L475.26,387.33 L476.43,387.61 L477.61,387.88 L478.78,388.15 L479.95,388.42 L481.12,388.69 L482.30,388.96 L483.47,389.23 L484.64,389.50 L485.81,389.77 L486.99,390.04 L488.16,390.30 L489.33,390.57 L490.50,390.83 L491.68,391.10 L492.85,391.36 L494.02,391.62 L495.19,391.89 L496.37,392.15 L497.54,392.41 L498.71,392.67 L499.88,392.93 L501.06,393.19 L502.23,393.45 L503.40,393.71 L504.57,393.96 L505.74,394.22 L506.92,394.48 L508.09,394.73 L509.26,394.99 L510.43,395.24 L511.61,395.49 L512.78,395.75 L513.95,396.00 L515.12,396.25 L516.30,396.50 L517.47,396.75 L518.64,397.00 L519.81,397.25 L520.99,397.50 L522.16,397.75 L523.33,398.00 L524.50,398.25 L525.68,398.49 L526.85,398.74 L528.02,398.99 L529.19,399.23 L530.37,399.48 L531.54,399.72 L532.71,399.96 L533.88,400.21 L535.06,400.45 L536.23,400.69 L537.40,400.93 L538.57,401.17 L539.74,401.41 L540.92,401.65 L542.09,401.89 L543.26,402.13 L544.43,402.37 L545.61,402.61 L546.78,402.85 L547.95,403.08 L549.12,403.32 L550.30,403.55 L551.47,403.79 L552.64,404.02 L553.81,404.26 L554.99,404.49 L556.16,404.72 L557.33,404.96 L558.50,405.19 L559.68,405.42 L560.85,405.65 L562.02,405.88 L563.19,406.11 L564.37,406.34 L565.54,406.57 L566.71,406.80 L567.88,407.03 L569.06,407.26 L570.23,407.49 L571.40,407.71 L572.57,407.94 L573.74,408.17 L574.92,408.39 L576.09,408.62 L577.26,408.84 L578.43,409.07 L579.61,409.29 L580.78,409.51 L581.95,409.74 L583.12,409.96 L584.30,410.18 L585.47,410.40 L586.64,410.62 L587.81,410.84 L588.99,411.06 L590.16,411.28 L591.33,411.50 L592.50,411.72 L593.68,411.94 L594.85,412.16 L596.02,412.38 L597.19,412.59 L598.37,412.81 L599.54,413.03 L600.71,413.24 L601.88,413.46 L603.06,413.67 L604.23,413.89 L605.40,414.10 L606.57,414.32 L607.74,414.53 L608.92,414.74 L610.09,414.96 L611.26,415.17 L612.43,415.38 L613.61,415.59 L614.78,415.80 L615.95,416.01 L617.12,416.22 L618.30,416.43 L619.47,416.64 L620.64,416.85 L621.81,417.06 L622.99,417.27 L624.16,417.47 L625.33,417.68 L626.50,417.89 L627.68,418.09 L628.85,418.30 L630.02,418.51 L631.19,418.71 L632.37,418.92 L633.54,419.12 L634.71,419.33 L635.88,419.53 L637.06,419.73 L638.23,419.94 L639.40,420.14 L640.57,420.34 L641.74,420.54 L642.92,420.74 L644.09,420.94 L645.26,421.15 L646.43,421.35 L647.61,421.55 L648.78,421.74 L649.95,421.94 L651.12,422.14 L652.30,422.34 L653.47,422.54 L654.64,422.74 L655.81,422.93 L656.99,423.13 L658.16,423.33 L659.33,423.52 L660.50,423.72 L661.68,423.91 L662.85,424.11 L664.02,424.30 L665.19,424.50 L666.37,424.69 L667.54,424.89 L668.71,425.08 L669.88,425.27 L671.06,425.46 L672.23,425.66 L673.40,425.85 L674.57,426.04 L675.74,426.23 L676.92,426.42 L678.09,426.61 L679.26,426.80 L680.43,426.99 L681.61,427.18 L682.78,427.37 L683.95,427.56 L685.12,427.75 L686.30,427.94 L687.47,428.12 L688.64,428.31 L689.81,428.50 L690.99,428.68 L692.16,428.87 L693.33,429.06 L694.50,429.24 L695.68,429.43 L696.85,429.61 L698.02,429.80 L699.19,429.98 L700.37,430.16 L701.54,430.35 L702.71,430.53 L703.88,430.71 L705.06,430.89 L706.23,431.08 L707.40,431.26 L708.57,431.44 L709.74,431.62 L710.92,431.80 L712.09,431.98 L713.26,432.16 L714.43,432.34 L715.61,432.52 L716.78,432.70 L717.95,432.88 L719.12,433.06 L720.30,433.24 L721.47,433.41 L722.64,433.59 L723.81,433.77 L724.99,433.94 L726.16,434.12 L727.33,434.30 L728.50,434.47 L729.68,434.65 L730.85,434.82 L732.02,435.00 L733.19,435.17 L734.37,435.35 L735.54,435.52 L736.71,435.70 L737.88,435.87 L739.06,436.04 L740.23,436.21 L741.40,436.39 L742.57,436.56 L743.74,436.73 L744.92,436.90 L746.09,437.07 L747.26,437.24 L748.43,437.41 L749.61,437.58 L750.78,437.75 L751.95,437.92 L753.12,438.09 L754.30,438.26 L755.47,438.43 L756.64,438.60 L757.81,438.77 L758.99,438.93 L760.16,439.10 L761.33,439.27 L762.50,439.43 L763.68,439.60 L764.85,439.77 L766.02,439.93 L767.19,440.10 L768.37,440.26 L769.54,440.43 L770.71,440.59 L771.88,440.76 L773.06,440.92 L774.23,441.09 L775.40,441.25 L776.57,441.41 L777.74,441.58 L778.92,441.74 L780.09,441.90 L781.26,442.06 L782.43,442.22 L783.61,442.38 L784.78,442.55 L785.95,442.71 L787.12,442.87 L788.30,443.03 L789.47,443.19 L790.64,443.35 L791.81,443.51 L792.99,443.67 L794.16,443.82 L795.33,443.98 L796.50,444.14 L797.68,444.30 L798.85,444.46 L800.02,444.61 L801.19,444.77 L802.37,444.93 L803.54,445.08 L804.71,445.24 L805.88,445.40 L807.06,445.55 L808.23,445.71 L809.40,445.86 L810.57,446.02 L811.74,446.17 L812.92,446.33 L814.09,446.48 L815.26,446.63 L816.43,446.79 L817.61,446.94 L818.78,447.09 L819.95,447.24 L821.12,447.40 L822.30,447.55 L823.47,447.70 L824.64,447.85 L825.81,448.00 L826.99,448.15 L828.16,448.30 L829.33,448.46 L830.50,448.61 L831.68,448.76 L832.85,448.90 L834.02,449.05 L835.19,449.20 L836.37,449.35 L837.54,449.50 L838.71,449.65 L839.88,449.80 L841.06,449.94 L842.23,450.09 L843.40,450.24 L844.57,450.39 L845.74,450.53 L846.92,450.68 L848.09,450.82 L849.26,450.97 L850.43,451.12 L851.61,451.26 L852.78,451.41 L853.95,451.55 L855.12,451.69 L856.30,451.84 L857.47,451.98 L858.64,452.13 L859.81,452.27 L860.99,452.41 L862.16,452.56 L863.33,452.70 L864.50,452.84 L865.68,452.98 L866.85,453.13 L868.02,453.27 L869.19,453.41 L870.37,453.55 L871.54,453.69 L872.71,453.83 L873.88,453.97 L875.06,454.11 L876.23,454.25 L877.40,454.39 L878.57,454.53 L879.74,454.67 L880.92,454.81 L882.09,454.95 L883.26,455.09 L884.43,455.22 L885.61,455.36 L886.78,455.50 L887.95,455.64 L889.12,455.77 L890.30,455.91 L891.47,456.05 L892.64,456.18 L893.81,456.32 L894.99,456.46 L896.16,456.59 L897.33,456.73 L898.50,456.86 L899.68,457.00 L900.85,457.13 L902.02,457.27 L903.19,457.40 L904.37,457.53 L905.54,457.67 L906.71,457.80 L907.88,457.93 L909.06,458.07 L910.23,458.20 L911.40,458.33 L912.57,458.46 L913.74,458.60 L914.92,458.73 L916.09,458.86 L917.26,458.99 L918.43,459.12 L919.61,459.25 L920.78,459.38 L921.95,459.51 L923.12,459.64 L924.30,459.77 L925.47,459.90 L926.64,460.03 L927.81,460.16 L928.99,460.29 L930.16,460.42 L931.33,460.55 L932.50,460.68 L933.68,460.80 L934.85,460.93 L936.02,461.06 L937.19,461.19 L938.37,461.31 L939.54,461.44 L940.71,461.57 L941.88,461.69 L943.06,461.82 L944.23,461.95 L945.40,462.07 L946.57,462.20 L947.74,462.32 L948.92,462.45 L950.09,462.57 L951.26,462.70 L952.43,462.82 L953.61,462.95 L954.78,463.07 L955.95,463.19 L957.12,463.32 L958.30,463.44 L959.47,463.56 L960.64,463.69 L961.81,463.81 L962.99,463.93 L964.16,464.05 L965.33,464.18 L966.50,464.30 L967.68,464.42 L968.85,464.54 L970.02,464.66 L971.19,464.78 L972.37,464.90 L973.54,465.02 L974.71,465.14 L975.88,465.26 L977.06,465.38 L978.23,465.50 L979.40,465.62" stroke="#4aae7b"/>
</g>
<line x1="136.6" y1="395.4" x2="979.4" y2="395.4" stroke="#000" stroke-width="3.2" stroke-dasharray="12.8 16.95" stroke-dashoffset="5.75" stroke-linecap="round" clip-path="url(#pa)"/>
<text x="116" y="625.8" font-size="35" text-anchor="end">0.15</text>
<text x="116" y="515.6" font-size="35" text-anchor="end">0.16</text>
<text x="116" y="405.4" font-size="35" text-anchor="end">0.17</text>
<text x="116" y="295.2" font-size="35" text-anchor="end">0.18</text>
<text x="116" y="185.0" font-size="35" text-anchor="end">0.19</text>
<text x="116" y="74.8" font-size="35" text-anchor="end">0.20</text>
<text x="136.6" y="684" font-size="35" text-anchor="middle">0</text>
<text x="277.1" y="684" font-size="35" text-anchor="middle">365</text>
<text x="417.5" y="684" font-size="35" text-anchor="middle">730</text>
<text x="558.0" y="684" font-size="35" text-anchor="middle">1095</text>
<text x="698.5" y="684" font-size="35" text-anchor="middle">1460</text>
<text x="838.9" y="684" font-size="35" text-anchor="middle">1825</text>
<text x="979.4" y="684" font-size="35" text-anchor="middle">2190</text>
<text x="511" y="735.6" font-size="36"><tspan font-style="italic">t</tspan> (day)</text>
<text transform="translate(34,431.5) rotate(-90)" font-size="35"><tspan font-style="italic" font-size="36">θ</tspan><tspan dx="8.5">(cm</tspan><tspan font-size="21" dy="-17.5" dx="-1.5">3</tspan><tspan dy="17.5" dx="-0.5">·cm</tspan><tspan font-size="21" dy="-17.5" dx="0.5">-3</tspan><tspan dy="17.5">)</tspan></text>
<text x="67" y="30" font-size="36">(a)</text>
<line x1="612.2" y1="84.8" x2="684.3" y2="84.8" stroke="#3a7cb9" stroke-width="7.6" stroke-linecap="round"/>
<text x="694.5" y="96.6" font-size="35.2">Observation 1</text>
<line x1="612.2" y1="128.6" x2="684.3" y2="128.6" stroke="#dc9e2c" stroke-width="7.6" stroke-linecap="round"/>
<text x="694.5" y="140.4" font-size="35.2">Observation 2</text>
<line x1="612.2" y1="172.4" x2="684.3" y2="172.4" stroke="#4aae7b" stroke-width="7.6" stroke-linecap="round"/>
<text x="694.5" y="184.2" font-size="35.2">Observation 3</text>
<text x="543" y="334.8" font-size="29.2" font-weight="bold">Desiccation Cracking Risk Zone</text>
<text x="549" y="377.8" font-size="29"><tspan font-weight="bold">θ </tspan><tspan font-family="Liberation Serif, Noto Serif CJK SC, serif" dx="0.5">＜</tspan><tspan font-weight="bold" dx="0.5">0.17cm<tspan font-size="18" dy="-14.5">3</tspan><tspan dy="14.5" dx="-1.5">·cm</tspan><tspan font-size="18" dy="-14.5">-3</tspan></tspan></text>
<line x1="150.3" y1="84" x2="199.10" y2="102.40" stroke="#000" stroke-width="4.4" stroke-linecap="round"/>
<polygon points="202,95.2 222.2,110.6 196.2,109.6" fill="#000" stroke="#000" stroke-width="1.6" stroke-linejoin="round"/>
<line x1="223.5" y1="398" x2="231.45" y2="417.60" stroke="#000" stroke-width="4.4" stroke-linecap="round"/>
<polygon points="223.6,421 240.5,439.5 239.3,414.2" fill="#000" stroke="#000" stroke-width="1.6" stroke-linejoin="round"/>
<line x1="514.6" y1="399" x2="522.45" y2="419.05" stroke="#000" stroke-width="4.4" stroke-linecap="round"/>
<polygon points="514.8,422.3 532.3,441.8 530.1,415.8" fill="#000" stroke="#000" stroke-width="1.6" stroke-linejoin="round"/>
<circle cx="222.4" cy="395.1" r="6" fill="#ff1f12"/>
<circle cx="513.6" cy="395.8" r="6" fill="#ff1f12"/>
<text x="203.5" y="463.3" font-size="23.3" font-weight="bold">Day 227</text>
<text x="494.5" y="464.5" font-size="23.3" font-weight="bold">Day 948</text>
<rect x="299.7" y="74.0" width="231.7" height="187.60000000000002" fill="#fff"/>
<path d="M299.7,261.6 V74.0 H531.4 V261.6 Z" fill="none" stroke="#000" stroke-width="2.6" stroke-linejoin="miter"/>
<g fill="none" stroke-width="4.2" stroke-linejoin="round" clip-path="url(#pi)">
<path d="M299.70,82.70 L300.28,82.83 L300.86,83.39 L301.44,84.36 L302.02,85.69 L302.60,87.35 L303.18,89.31 L303.76,91.53 L304.35,93.97 L304.93,96.61 L305.51,99.40 L306.09,102.31 L306.67,105.31 L307.25,108.37 L307.83,111.44 L308.41,114.50 L308.99,117.50 L309.57,120.43 L310.15,123.29 L310.73,126.07 L311.31,128.77 L311.89,131.39 L312.48,133.93 L313.06,136.38 L313.64,138.76 L314.22,141.05 L314.80,143.26 L315.38,145.38 L315.96,147.41 L316.54,149.36 L317.12,151.22 L317.70,152.98 L318.28,154.66 L318.86,156.24 L319.44,157.73 L320.02,159.12 L320.61,160.43 L321.19,161.66 L321.77,162.83 L322.35,163.94 L322.93,165.00 L323.51,166.02 L324.09,167.01 L324.67,167.98 L325.25,168.95 L325.83,169.91 L326.41,170.89 L326.99,171.88 L327.57,172.90 L328.15,173.96 L328.74,175.07 L329.32,176.23 L329.90,177.45 L330.48,178.72 L331.06,180.04 L331.64,181.39 L332.22,182.77 L332.80,184.18 L333.38,185.59 L333.96,187.02 L334.54,188.44 L335.12,189.86 L335.70,191.27 L336.28,192.66 L336.86,194.02 L337.45,195.37 L338.03,196.69 L338.61,197.99 L339.19,199.28 L339.77,200.53 L340.35,201.77 L340.93,202.99 L341.51,204.18 L342.09,205.35 L342.67,206.49 L343.25,207.61 L343.83,208.71 L344.41,209.78 L344.99,210.82 L345.58,211.84 L346.16,212.84 L346.74,213.80 L347.32,214.74 L347.90,215.66 L348.48,216.54 L349.06,217.40 L349.64,218.24 L350.22,219.04 L350.80,219.82 L351.38,220.57 L351.96,221.30 L352.54,222.01 L353.12,222.69 L353.71,223.34 L354.29,223.98 L354.87,224.59 L355.45,225.18 L356.03,225.75 L356.61,226.30 L357.19,226.83 L357.77,227.34 L358.35,227.84 L358.93,228.31 L359.51,228.77 L360.09,229.21 L360.67,229.63 L361.25,230.04 L361.84,230.43 L362.42,230.80 L363.00,231.17 L363.58,231.52 L364.16,231.85 L364.74,232.18 L365.32,232.49 L365.90,232.79 L366.48,233.08 L367.06,233.36 L367.64,233.63 L368.22,233.89 L368.80,234.15 L369.38,234.39 L369.96,234.63 L370.55,234.86 L371.13,235.08 L371.71,235.30 L372.29,235.52 L372.87,235.73 L373.45,235.93 L374.03,236.13 L374.61,236.33 L375.19,236.53 L375.77,236.72 L376.35,236.92 L376.93,237.11 L377.51,237.30 L378.09,237.49 L378.68,237.67 L379.26,237.86 L379.84,238.04 L380.42,238.22 L381.00,238.40 L381.58,238.58 L382.16,238.75 L382.74,238.93 L383.32,239.10 L383.90,239.27 L384.48,239.44 L385.06,239.61 L385.64,239.78 L386.22,239.94 L386.81,240.10 L387.39,240.27 L387.97,240.43 L388.55,240.59 L389.13,240.74 L389.71,240.90 L390.29,241.05 L390.87,241.21 L391.45,241.36 L392.03,241.51 L392.61,241.66 L393.19,241.80 L393.77,241.95 L394.35,242.10 L394.94,242.24 L395.52,242.38 L396.10,242.52 L396.68,242.66 L397.26,242.80 L397.84,242.94 L398.42,243.08 L399.00,243.21 L399.58,243.35 L400.16,243.48 L400.74,243.61 L401.32,243.74 L401.90,243.87 L402.48,244.00 L403.06,244.13 L403.65,244.25 L404.23,244.38 L404.81,244.50 L405.39,244.63 L405.97,244.75 L406.55,244.87 L407.13,244.99 L407.71,245.11 L408.29,245.23 L408.87,245.35 L409.45,245.46 L410.03,245.58 L410.61,245.69 L411.19,245.81 L411.78,245.92 L412.36,246.04 L412.94,246.15 L413.52,246.26 L414.10,246.37 L414.68,246.48 L415.26,246.59 L415.84,246.70 L416.42,246.81 L417.00,246.91 L417.58,247.02 L418.16,247.12 L418.74,247.23 L419.32,247.33 L419.91,247.44 L420.49,247.54 L421.07,247.64 L421.65,247.74 L422.23,247.85 L422.81,247.95 L423.39,248.05 L423.97,248.14 L424.55,248.24 L425.13,248.34 L425.71,248.44 L426.29,248.53 L426.87,248.63 L427.45,248.72 L428.04,248.82 L428.62,248.91 L429.20,249.01 L429.78,249.10 L430.36,249.19 L430.94,249.28 L431.52,249.37 L432.10,249.46 L432.68,249.55 L433.26,249.64 L433.84,249.73 L434.42,249.82 L435.00,249.90 L435.58,249.99 L436.16,250.08 L436.75,250.16 L437.33,250.25 L437.91,250.33 L438.49,250.42 L439.07,250.50 L439.65,250.58 L440.23,250.67 L440.81,250.75 L441.39,250.83 L441.97,250.91 L442.55,250.99 L443.13,251.07 L443.71,251.15 L444.29,251.23 L444.88,251.31 L445.46,251.39 L446.04,251.46 L446.62,251.54 L447.20,251.62 L447.78,251.69 L448.36,251.77 L448.94,251.84 L449.52,251.92 L450.10,251.99 L450.68,252.07 L451.26,252.14 L451.84,252.21 L452.42,252.29 L453.01,252.36 L453.59,252.43 L454.17,252.50 L454.75,252.57 L455.33,252.64 L455.91,252.71 L456.49,252.78 L457.07,252.85 L457.65,252.92 L458.23,252.99 L458.81,253.06 L459.39,253.12 L459.97,253.19 L460.55,253.26 L461.14,253.33 L461.72,253.39 L462.30,253.46 L462.88,253.52 L463.46,253.59 L464.04,253.65 L464.62,253.72 L465.20,253.78 L465.78,253.85 L466.36,253.91 L466.94,253.98 L467.52,254.04 L468.10,254.10 L468.68,254.16 L469.26,254.23 L469.85,254.29 L470.43,254.35 L471.01,254.41 L471.59,254.47 L472.17,254.53 L472.75,254.59 L473.33,254.65 L473.91,254.72 L474.49,254.78 L475.07,254.83 L475.65,254.89 L476.23,254.95 L476.81,255.01 L477.39,255.07 L477.98,255.13 L478.56,255.19 L479.14,255.25 L479.72,255.30 L480.30,255.36 L480.88,255.42 L481.46,255.48 L482.04,255.53 L482.62,255.59 L483.20,255.65 L483.78,255.70 L484.36,255.76 L484.94,255.82 L485.52,255.87 L486.11,255.93 L486.69,255.99 L487.27,256.04 L487.85,256.10 L488.43,256.15 L489.01,256.21 L489.59,256.26 L490.17,256.32 L490.75,256.37 L491.33,256.43 L491.91,256.48 L492.49,256.54 L493.07,256.59 L493.65,256.65 L494.24,256.70 L494.82,256.76 L495.40,256.81 L495.98,256.87 L496.56,256.92 L497.14,256.97 L497.72,257.03 L498.30,257.08 L498.88,257.14 L499.46,257.19 L500.04,257.24 L500.62,257.30 L501.20,257.35 L501.78,257.40 L502.36,257.46 L502.95,257.51 L503.53,257.57 L504.11,257.62 L504.69,257.67 L505.27,257.73 L505.85,257.78 L506.43,257.84 L507.01,257.89 L507.59,257.94 L508.17,258.00 L508.75,258.05 L509.33,258.10 L509.91,258.16 L510.49,258.21 L511.08,258.27 L511.66,258.32 L512.24,258.38 L512.82,258.43 L513.40,258.48 L513.98,258.54 L514.56,258.59 L515.14,258.65 L515.72,258.70 L516.30,258.76 L516.88,258.81 L517.46,258.87 L518.04,258.92 L518.62,258.98 L519.21,259.03 L519.79,259.09 L520.37,259.14 L520.95,259.20 L521.53,259.26 L522.11,259.31 L522.69,259.37 L523.27,259.42 L523.85,259.48 L524.43,259.54 L525.01,259.59 L525.59,259.65 L526.17,259.71 L526.75,259.77 L527.34,259.82 L527.92,259.88 L528.50,259.94 L529.08,260.00 L529.66,260.06 L530.24,260.11 L530.82,260.17 L531.40,260.23" stroke="#3a7cb9"/>
<path d="M299.70,81.99 L300.28,82.20 L300.86,82.42 L301.44,82.65 L302.02,82.89 L302.60,83.15 L303.18,83.42 L303.76,83.70 L304.35,83.99 L304.93,84.30 L305.51,84.61 L306.09,84.94 L306.67,85.28 L307.25,85.63 L307.83,85.99 L308.41,86.36 L308.99,86.73 L309.57,87.12 L310.15,87.52 L310.73,87.92 L311.31,88.34 L311.89,88.76 L312.48,89.19 L313.06,89.62 L313.64,90.07 L314.22,90.52 L314.80,90.97 L315.38,91.44 L315.96,91.91 L316.54,92.38 L317.12,92.86 L317.70,93.35 L318.28,93.84 L318.86,94.33 L319.44,94.83 L320.02,95.34 L320.61,95.84 L321.19,96.35 L321.77,96.87 L322.35,97.38 L322.93,97.90 L323.51,98.42 L324.09,98.94 L324.67,99.47 L325.25,99.99 L325.83,100.52 L326.41,101.05 L326.99,101.57 L327.57,102.10 L328.15,102.63 L328.74,103.15 L329.32,103.68 L329.90,104.21 L330.48,104.73 L331.06,105.25 L331.64,105.77 L332.22,106.29 L332.80,106.80 L333.38,107.32 L333.96,107.83 L334.54,108.34 L335.12,108.84 L335.70,109.34 L336.28,109.84 L336.86,110.34 L337.45,110.84 L338.03,111.33 L338.61,111.82 L339.19,112.31 L339.77,112.79 L340.35,113.27 L340.93,113.75 L341.51,114.23 L342.09,114.71 L342.67,115.18 L343.25,115.65 L343.83,116.11 L344.41,116.58 L344.99,117.04 L345.58,117.50 L346.16,117.96 L346.74,118.41 L347.32,118.86 L347.90,119.31 L348.48,119.76 L349.06,120.20 L349.64,120.64 L350.22,121.08 L350.80,121.52 L351.38,121.95 L351.96,122.39 L352.54,122.81 L353.12,123.24 L353.71,123.66 L354.29,124.09 L354.87,124.50 L355.45,124.92 L356.03,125.33 L356.61,125.74 L357.19,126.15 L357.77,126.56 L358.35,126.96 L358.93,127.36 L359.51,127.76 L360.09,128.16 L360.67,128.55 L361.25,128.94 L361.84,129.33 L362.42,129.71 L363.00,130.10 L363.58,130.48 L364.16,130.85 L364.74,131.23 L365.32,131.60 L365.90,131.97 L366.48,132.34 L367.06,132.70 L367.64,133.06 L368.22,133.42 L368.80,133.78 L369.38,134.14 L369.96,134.49 L370.55,134.84 L371.13,135.18 L371.71,135.53 L372.29,135.87 L372.87,136.21 L373.45,136.55 L374.03,136.88 L374.61,137.22 L375.19,137.55 L375.77,137.88 L376.35,138.20 L376.93,138.53 L377.51,138.85 L378.09,139.16 L378.68,139.48 L379.26,139.80 L379.84,140.11 L380.42,140.42 L381.00,140.72 L381.58,141.03 L382.16,141.33 L382.74,141.63 L383.32,141.93 L383.90,142.23 L384.48,142.52 L385.06,142.81 L385.64,143.10 L386.22,143.39 L386.81,143.68 L387.39,143.96 L387.97,144.24 L388.55,144.52 L389.13,144.80 L389.71,145.07 L390.29,145.34 L390.87,145.62 L391.45,145.88 L392.03,146.15 L392.61,146.42 L393.19,146.68 L393.77,146.94 L394.35,147.20 L394.94,147.45 L395.52,147.71 L396.10,147.96 L396.68,148.21 L397.26,148.46 L397.84,148.71 L398.42,148.95 L399.00,149.20 L399.58,149.44 L400.16,149.68 L400.74,149.92 L401.32,150.15 L401.90,150.38 L402.48,150.62 L403.06,150.85 L403.65,151.08 L404.23,151.30 L404.81,151.53 L405.39,151.75 L405.97,151.97 L406.55,152.19 L407.13,152.41 L407.71,152.63 L408.29,152.84 L408.87,153.05 L409.45,153.26 L410.03,153.47 L410.61,153.68 L411.19,153.89 L411.78,154.09 L412.36,154.29 L412.94,154.50 L413.52,154.70 L414.10,154.89 L414.68,155.09 L415.26,155.28 L415.84,155.48 L416.42,155.67 L417.00,155.86 L417.58,156.05 L418.16,156.24 L418.74,156.42 L419.32,156.61 L419.91,156.79 L420.49,156.97 L421.07,157.15 L421.65,157.33 L422.23,157.51 L422.81,157.68 L423.39,157.85 L423.97,158.03 L424.55,158.20 L425.13,158.37 L425.71,158.54 L426.29,158.71 L426.87,158.87 L427.45,159.04 L428.04,159.20 L428.62,159.36 L429.20,159.52 L429.78,159.68 L430.36,159.84 L430.94,160.00 L431.52,160.15 L432.10,160.31 L432.68,160.46 L433.26,160.61 L433.84,160.76 L434.42,160.91 L435.00,161.06 L435.58,161.21 L436.16,161.35 L436.75,161.50 L437.33,161.64 L437.91,161.79 L438.49,161.93 L439.07,162.07 L439.65,162.21 L440.23,162.35 L440.81,162.48 L441.39,162.62 L441.97,162.76 L442.55,162.89 L443.13,163.02 L443.71,163.16 L444.29,163.29 L444.88,163.42 L445.46,163.55 L446.04,163.68 L446.62,163.80 L447.20,163.93 L447.78,164.06 L448.36,164.18 L448.94,164.30 L449.52,164.43 L450.10,164.55 L450.68,164.67 L451.26,164.79 L451.84,164.91 L452.42,165.03 L453.01,165.15 L453.59,165.27 L454.17,165.38 L454.75,165.50 L455.33,165.61 L455.91,165.73 L456.49,165.84 L457.07,165.95 L457.65,166.06 L458.23,166.18 L458.81,166.29 L459.39,166.40 L459.97,166.51 L460.55,166.61 L461.14,166.72 L461.72,166.83 L462.30,166.94 L462.88,167.04 L463.46,167.15 L464.04,167.25 L464.62,167.36 L465.20,167.46 L465.78,167.56 L466.36,167.67 L466.94,167.77 L467.52,167.87 L468.10,167.97 L468.68,168.07 L469.26,168.17 L469.85,168.27 L470.43,168.37 L471.01,168.47 L471.59,168.57 L472.17,168.66 L472.75,168.76 L473.33,168.86 L473.91,168.95 L474.49,169.05 L475.07,169.15 L475.65,169.24 L476.23,169.34 L476.81,169.43 L477.39,169.53 L477.98,169.62 L478.56,169.72 L479.14,169.81 L479.72,169.90 L480.30,170.00 L480.88,170.09 L481.46,170.18 L482.04,170.27 L482.62,170.37 L483.20,170.46 L483.78,170.55 L484.36,170.64 L484.94,170.73 L485.52,170.82 L486.11,170.91 L486.69,171.01 L487.27,171.10 L487.85,171.19 L488.43,171.28 L489.01,171.37 L489.59,171.46 L490.17,171.55 L490.75,171.64 L491.33,171.73 L491.91,171.82 L492.49,171.91 L493.07,172.00 L493.65,172.09 L494.24,172.18 L494.82,172.27 L495.40,172.36 L495.98,172.45 L496.56,172.54 L497.14,172.63 L497.72,172.72 L498.30,172.81 L498.88,172.91 L499.46,173.00 L500.04,173.09 L500.62,173.18 L501.20,173.27 L501.78,173.36 L502.36,173.45 L502.95,173.55 L503.53,173.64 L504.11,173.73 L504.69,173.82 L505.27,173.92 L505.85,174.01 L506.43,174.10 L507.01,174.20 L507.59,174.29 L508.17,174.38 L508.75,174.48 L509.33,174.57 L509.91,174.67 L510.49,174.76 L511.08,174.86 L511.66,174.96 L512.24,175.05 L512.82,175.15 L513.40,175.25 L513.98,175.35 L514.56,175.44 L515.14,175.54 L515.72,175.64 L516.30,175.74 L516.88,175.84 L517.46,175.94 L518.04,176.04 L518.62,176.14 L519.21,176.25 L519.79,176.35 L520.37,176.45 L520.95,176.56 L521.53,176.66 L522.11,176.77 L522.69,176.87 L523.27,176.98 L523.85,177.08 L524.43,177.19 L525.01,177.30 L525.59,177.41 L526.17,177.52 L526.75,177.63 L527.34,177.74 L527.92,177.85 L528.50,177.96 L529.08,178.07 L529.66,178.19 L530.24,178.30 L530.82,178.42 L531.40,178.53" stroke="#dc9e2c"/>
<path d="M299.70,81.59 L300.28,81.62 L300.86,81.67 L301.44,81.71 L302.02,81.76 L302.60,81.80 L303.18,81.85 L303.76,81.90 L304.35,81.96 L304.93,82.01 L305.51,82.07 L306.09,82.13 L306.67,82.19 L307.25,82.25 L307.83,82.32 L308.41,82.39 L308.99,82.46 L309.57,82.53 L310.15,82.60 L310.73,82.67 L311.31,82.75 L311.89,82.83 L312.48,82.90 L313.06,82.99 L313.64,83.07 L314.22,83.15 L314.80,83.24 L315.38,83.33 L315.96,83.42 L316.54,83.51 L317.12,83.60 L317.70,83.69 L318.28,83.79 L318.86,83.89 L319.44,83.99 L320.02,84.09 L320.61,84.19 L321.19,84.29 L321.77,84.40 L322.35,84.50 L322.93,84.61 L323.51,84.72 L324.09,84.83 L324.67,84.94 L325.25,85.05 L325.83,85.17 L326.41,85.28 L326.99,85.40 L327.57,85.52 L328.15,85.64 L328.74,85.76 L329.32,85.88 L329.90,86.01 L330.48,86.13 L331.06,86.26 L331.64,86.38 L332.22,86.51 L332.80,86.64 L333.38,86.77 L333.96,86.90 L334.54,87.04 L335.12,87.17 L335.70,87.30 L336.28,87.44 L336.86,87.58 L337.45,87.71 L338.03,87.85 L338.61,87.99 L339.19,88.13 L339.77,88.27 L340.35,88.42 L340.93,88.56 L341.51,88.70 L342.09,88.85 L342.67,88.99 L343.25,89.14 L343.83,89.29 L344.41,89.44 L344.99,89.59 L345.58,89.74 L346.16,89.89 L346.74,90.04 L347.32,90.19 L347.90,90.34 L348.48,90.50 L349.06,90.65 L349.64,90.80 L350.22,90.96 L350.80,91.11 L351.38,91.27 L351.96,91.43 L352.54,91.59 L353.12,91.74 L353.71,91.90 L354.29,92.06 L354.87,92.22 L355.45,92.38 L356.03,92.54 L356.61,92.70 L357.19,92.86 L357.77,93.03 L358.35,93.19 L358.93,93.35 L359.51,93.51 L360.09,93.68 L360.67,93.84 L361.25,94.00 L361.84,94.17 L362.42,94.33 L363.00,94.50 L363.58,94.66 L364.16,94.83 L364.74,94.99 L365.32,95.16 L365.90,95.32 L366.48,95.49 L367.06,95.65 L367.64,95.82 L368.22,95.98 L368.80,96.15 L369.38,96.32 L369.96,96.48 L370.55,96.65 L371.13,96.81 L371.71,96.98 L372.29,97.15 L372.87,97.31 L373.45,97.48 L374.03,97.64 L374.61,97.81 L375.19,97.98 L375.77,98.14 L376.35,98.31 L376.93,98.47 L377.51,98.64 L378.09,98.80 L378.68,98.97 L379.26,99.13 L379.84,99.29 L380.42,99.46 L381.00,99.62 L381.58,99.78 L382.16,99.95 L382.74,100.11 L383.32,100.27 L383.90,100.43 L384.48,100.60 L385.06,100.76 L385.64,100.92 L386.22,101.08 L386.81,101.24 L387.39,101.40 L387.97,101.56 L388.55,101.72 L389.13,101.88 L389.71,102.04 L390.29,102.20 L390.87,102.36 L391.45,102.52 L392.03,102.67 L392.61,102.83 L393.19,102.99 L393.77,103.15 L394.35,103.30 L394.94,103.46 L395.52,103.62 L396.10,103.77 L396.68,103.93 L397.26,104.08 L397.84,104.24 L398.42,104.39 L399.00,104.55 L399.58,104.70 L400.16,104.86 L400.74,105.01 L401.32,105.16 L401.90,105.32 L402.48,105.47 L403.06,105.62 L403.65,105.77 L404.23,105.92 L404.81,106.08 L405.39,106.23 L405.97,106.38 L406.55,106.53 L407.13,106.68 L407.71,106.83 L408.29,106.98 L408.87,107.13 L409.45,107.27 L410.03,107.42 L410.61,107.57 L411.19,107.72 L411.78,107.87 L412.36,108.01 L412.94,108.16 L413.52,108.31 L414.10,108.45 L414.68,108.60 L415.26,108.74 L415.84,108.89 L416.42,109.03 L417.00,109.18 L417.58,109.32 L418.16,109.47 L418.74,109.61 L419.32,109.75 L419.91,109.89 L420.49,110.04 L421.07,110.18 L421.65,110.32 L422.23,110.46 L422.81,110.60 L423.39,110.74 L423.97,110.88 L424.55,111.02 L425.13,111.16 L425.71,111.30 L426.29,111.44 L426.87,111.58 L427.45,111.72 L428.04,111.85 L428.62,111.99 L429.20,112.13 L429.78,112.26 L430.36,112.40 L430.94,112.54 L431.52,112.67 L432.10,112.81 L432.68,112.94 L433.26,113.07 L433.84,113.21 L434.42,113.34 L435.00,113.47 L435.58,113.61 L436.16,113.74 L436.75,113.87 L437.33,114.00 L437.91,114.13 L438.49,114.27 L439.07,114.40 L439.65,114.53 L440.23,114.66 L440.81,114.78 L441.39,114.91 L441.97,115.04 L442.55,115.17 L443.13,115.30 L443.71,115.42 L444.29,115.55 L444.88,115.68 L445.46,115.80 L446.04,115.93 L446.62,116.05 L447.20,116.18 L447.78,116.30 L448.36,116.43 L448.94,116.55 L449.52,116.67 L450.10,116.80 L450.68,116.92 L451.26,117.04 L451.84,117.16 L452.42,117.28 L453.01,117.41 L453.59,117.53 L454.17,117.65 L454.75,117.76 L455.33,117.88 L455.91,118.00 L456.49,118.12 L457.07,118.24 L457.65,118.36 L458.23,118.47 L458.81,118.59 L459.39,118.71 L459.97,118.82 L460.55,118.94 L461.14,119.05 L461.72,119.17 L462.30,119.28 L462.88,119.39 L463.46,119.51 L464.04,119.62 L464.62,119.73 L465.20,119.84 L465.78,119.95 L466.36,120.06 L466.94,120.17 L467.52,120.28 L468.10,120.39 L468.68,120.50 L469.26,120.61 L469.85,120.72 L470.43,120.83 L471.01,120.93 L471.59,121.04 L472.17,121.15 L472.75,121.25 L473.33,121.36 L473.91,121.46 L474.49,121.57 L475.07,121.67 L475.65,121.78 L476.23,121.88 L476.81,121.98 L477.39,122.08 L477.98,122.19 L478.56,122.29 L479.14,122.39 L479.72,122.49 L480.30,122.59 L480.88,122.69 L481.46,122.79 L482.04,122.88 L482.62,122.98 L483.20,123.08 L483.78,123.18 L484.36,123.27 L484.94,123.37 L485.52,123.46 L486.11,123.56 L486.69,123.65 L487.27,123.75 L487.85,123.84 L488.43,123.94 L489.01,124.03 L489.59,124.12 L490.17,124.21 L490.75,124.30 L491.33,124.39 L491.91,124.48 L492.49,124.57 L493.07,124.66 L493.65,124.75 L494.24,124.84 L494.82,124.93 L495.40,125.01 L495.98,125.10 L496.56,125.19 L497.14,125.27 L497.72,125.36 L498.30,125.44 L498.88,125.53 L499.46,125.61 L500.04,125.69 L500.62,125.78 L501.20,125.86 L501.78,125.94 L502.36,126.02 L502.95,126.10 L503.53,126.18 L504.11,126.26 L504.69,126.34 L505.27,126.42 L505.85,126.50 L506.43,126.57 L507.01,126.65 L507.59,126.73 L508.17,126.80 L508.75,126.88 L509.33,126.95 L509.91,127.03 L510.49,127.10 L511.08,127.17 L511.66,127.25 L512.24,127.32 L512.82,127.39 L513.40,127.46 L513.98,127.53 L514.56,127.60 L515.14,127.67 L515.72,127.74 L516.30,127.81 L516.88,127.88 L517.46,127.94 L518.04,128.01 L518.62,128.08 L519.21,128.14 L519.79,128.21 L520.37,128.27 L520.95,128.34 L521.53,128.40 L522.11,128.46 L522.69,128.52 L523.27,128.59 L523.85,128.65 L524.43,128.71 L525.01,128.77 L525.59,128.83 L526.17,128.89 L526.75,128.95 L527.34,129.00 L527.92,129.06 L528.50,129.12 L529.08,129.17 L529.66,129.23 L530.24,129.28 L530.82,129.34 L531.40,129.39" stroke="#4aae7b"/>
</g>
<line x1="306" y1="217" x2="531.4" y2="217" stroke="#000" stroke-width="3.4" stroke-dasharray="12.8 16.95" stroke-dashoffset="-1.6" stroke-linecap="round" clip-path="url(#pi)"/>
<circle cx="348.5" cy="216.8" r="5.9" fill="#ff1f12"/>
<text x="346.5" y="202.1" font-size="23.5" font-weight="bold">Day 12</text>
<g stroke="#000" stroke-width="2.6" fill="none" stroke-linecap="round">
<line x1="299.7" y1="261.60" x2="295.2" y2="261.60"/>
<line x1="299.7" y1="239.20" x2="296.9" y2="239.20"/>
<line x1="299.7" y1="216.80" x2="295.2" y2="216.80"/>
<line x1="299.7" y1="194.40" x2="296.9" y2="194.40"/>
<line x1="299.7" y1="172.00" x2="295.2" y2="172.00"/>
<line x1="299.7" y1="149.60" x2="296.9" y2="149.60"/>
<line x1="299.7" y1="127.20" x2="295.2" y2="127.20"/>
<line x1="299.7" y1="104.80" x2="296.9" y2="104.80"/>
<line x1="299.7" y1="82.40" x2="295.2" y2="82.40"/>
<line x1="299.70" y1="261.6" x2="299.70" y2="265.90000000000003"/>
<line x1="338.32" y1="261.6" x2="338.32" y2="264.40000000000003"/>
<line x1="376.93" y1="261.6" x2="376.93" y2="265.90000000000003"/>
<line x1="415.55" y1="261.6" x2="415.55" y2="264.40000000000003"/>
<line x1="454.17" y1="261.6" x2="454.17" y2="265.90000000000003"/>
<line x1="492.78" y1="261.6" x2="492.78" y2="264.40000000000003"/>
<line x1="531.40" y1="261.6" x2="531.40" y2="265.90000000000003"/>
</g>
<text x="292.6" y="268.0" font-size="21" font-weight="bold" text-anchor="end">0.16</text>
<text x="292.6" y="223.2" font-size="21" font-weight="bold" text-anchor="end">0.17</text>
<text x="292.6" y="178.4" font-size="21" font-weight="bold" text-anchor="end">0.18</text>
<text x="292.6" y="133.6" font-size="21" font-weight="bold" text-anchor="end">0.19</text>
<text x="292.6" y="88.8" font-size="21" font-weight="bold" text-anchor="end">0.20</text>
<text x="299.7" y="284.4" font-size="21" font-weight="bold" text-anchor="middle">0</text>
<text x="376.9" y="284.4" font-size="21" font-weight="bold" text-anchor="middle">20</text>
<text x="454.2" y="284.4" font-size="21" font-weight="bold" text-anchor="middle">40</text>
<text x="531.4" y="284.4" font-size="21" font-weight="bold" text-anchor="middle">60</text>
<text x="386" y="312" font-size="21.5" font-weight="bold"><tspan font-style="italic">t</tspan> (day)</text>
<text transform="translate(244.5,230.5) rotate(-90)" font-size="20.5" font-weight="bold"><tspan font-style="italic" font-weight="normal" font-size="23">θ</tspan><tspan dx="3">(cm</tspan><tspan font-size="12.5" dy="-10">3</tspan><tspan dy="10">·cm</tspan><tspan font-size="12.5" dy="-10">-3</tspan><tspan dy="10">)</tspan></text>
<circle cx="333.4" cy="286.4" r="5.6" fill="#c8c8c8" stroke="#444" stroke-width="1"/>
</g>
<path d="M1121.5,634.2 V7.0 H1964.2 V634.2 Z" fill="none" stroke="#000" stroke-width="4.3" stroke-linejoin="miter"/>
<g stroke="#000" stroke-width="4.3" stroke-linecap="round" fill="none">
<line x1="1121.5" y1="634.20" x2="1109.50" y2="634.20"/>
<line x1="1121.5" y1="537.63" x2="1115.50" y2="537.63"/>
<line x1="1121.5" y1="441.06" x2="1109.50" y2="441.06"/>
<line x1="1121.5" y1="344.49" x2="1115.50" y2="344.49"/>
<line x1="1121.5" y1="247.92" x2="1109.50" y2="247.92"/>
<line x1="1121.5" y1="151.35" x2="1115.50" y2="151.35"/>
<line x1="1121.5" y1="54.78" x2="1109.50" y2="54.78"/>
<line x1="1121.50" y1="634.2" x2="1121.50" y2="645.70"/>
<line x1="1191.72" y1="634.2" x2="1191.72" y2="639.70"/>
<line x1="1261.95" y1="634.2" x2="1261.95" y2="645.70"/>
<line x1="1332.17" y1="634.2" x2="1332.17" y2="639.70"/>
<line x1="1402.40" y1="634.2" x2="1402.40" y2="645.70"/>
<line x1="1472.62" y1="634.2" x2="1472.62" y2="639.70"/>
<line x1="1542.85" y1="634.2" x2="1542.85" y2="645.70"/>
<line x1="1613.08" y1="634.2" x2="1613.08" y2="639.70"/>
<line x1="1683.30" y1="634.2" x2="1683.30" y2="645.70"/>
<line x1="1753.53" y1="634.2" x2="1753.53" y2="639.70"/>
<line x1="1823.75" y1="634.2" x2="1823.75" y2="645.70"/>
<line x1="1893.97" y1="634.2" x2="1893.97" y2="639.70"/>
<line x1="1964.20" y1="634.2" x2="1964.20" y2="645.70"/>
</g>
<g fill="none" stroke-width="7.6" stroke-linejoin="round" clip-path="url(#pb)">
<path d="M1121.50,634.20 L1121.50,634.46 L1121.50,634.71 L1121.51,634.94 L1121.52,635.15 L1121.53,635.35 L1121.54,635.53 L1121.55,635.69 L1121.57,635.84 L1121.58,635.97 L1121.60,636.09 L1121.63,636.19 L1121.65,636.28 L1121.68,636.35 L1121.70,636.40 L1121.73,636.44 L1121.77,636.46 L1121.80,636.47 L1121.84,636.47 L1121.88,636.44 L1121.92,636.41 L1121.96,636.36 L1122.00,636.29 L1122.05,636.21 L1122.10,636.11 L1122.15,636.00 L1122.20,635.88 L1122.26,635.74 L1122.32,635.59 L1122.38,635.42 L1122.44,635.24 L1122.50,635.04 L1122.57,634.83 L1122.64,634.61 L1122.71,634.37 L1122.78,634.12 L1122.85,633.85 L1122.93,633.57 L1123.01,633.28 L1123.09,632.98 L1123.17,632.66 L1123.25,632.32 L1123.34,631.98 L1123.43,631.62 L1123.52,631.25 L1123.61,630.87 L1123.71,630.47 L1123.80,630.06 L1123.90,629.64 L1124.00,629.20 L1124.11,628.75 L1124.21,628.29 L1124.32,627.82 L1124.43,627.34 L1124.54,626.84 L1124.65,626.33 L1124.77,625.81 L1124.89,625.28 L1125.01,624.73 L1125.13,624.18 L1125.25,623.61 L1125.38,623.03 L1125.51,622.44 L1125.64,621.84 L1125.77,621.22 L1125.91,620.60 L1126.04,619.96 L1126.18,619.31 L1126.32,618.66 L1126.46,617.99 L1126.61,617.31 L1126.76,616.62 L1126.91,615.91 L1127.06,615.20 L1127.21,614.48 L1127.37,613.75 L1127.52,613.00 L1127.68,612.25 L1127.84,611.49 L1128.01,610.71 L1128.17,609.93 L1128.34,609.13 L1128.51,608.33 L1128.68,607.52 L1128.86,606.69 L1129.03,605.86 L1129.21,605.02 L1129.39,604.17 L1129.57,603.31 L1129.76,602.44 L1129.95,601.56 L1130.13,600.67 L1130.33,599.77 L1130.52,598.86 L1130.71,597.95 L1130.91,597.02 L1131.11,596.09 L1131.31,595.15 L1131.51,594.20 L1131.72,593.24 L1131.93,592.27 L1132.14,591.30 L1132.35,590.32 L1132.56,589.32 L1132.78,588.32 L1133.00,587.32 L1133.22,586.30 L1133.44,585.28 L1133.66,584.25 L1133.89,583.21 L1134.12,582.16 L1134.35,581.11 L1134.58,580.05 L1134.81,578.98 L1135.05,577.91 L1135.29,576.82 L1135.53,575.73 L1135.77,574.64 L1136.02,573.54 L1136.27,572.43 L1136.51,571.31 L1136.77,570.19 L1137.02,569.06 L1137.27,567.92 L1137.53,566.78 L1137.79,565.63 L1138.05,564.47 L1138.32,563.31 L1138.58,562.14 L1138.85,560.97 L1139.12,559.79 L1139.39,558.61 L1139.67,557.42 L1139.94,556.22 L1140.22,555.02 L1140.50,553.81 L1140.79,552.60 L1141.07,551.38 L1141.36,550.16 L1141.65,548.93 L1141.94,547.69 L1142.23,546.46 L1142.52,545.21 L1142.82,543.96 L1143.12,542.71 L1143.42,541.45 L1143.73,540.19 L1144.03,538.93 L1144.34,537.65 L1144.65,536.38 L1144.96,535.10 L1145.27,533.82 L1145.59,532.53 L1145.91,531.24 L1146.23,529.94 L1146.55,528.64 L1146.87,527.34 L1147.20,526.03 L1147.53,524.72 L1147.86,523.41 L1148.19,522.09 L1148.53,520.77 L1148.86,519.45 L1149.20,518.12 L1149.54,516.79 L1149.89,515.46 L1150.23,514.12 L1150.58,512.78 L1150.93,511.44 L1151.28,510.10 L1151.63,508.75 L1151.99,507.40 L1152.35,506.05 L1152.71,504.70 L1153.07,503.34 L1153.43,501.98 L1153.80,500.62 L1154.17,499.26 L1154.54,497.90 L1154.91,496.53 L1155.28,495.16 L1155.66,493.79 L1156.04,492.42 L1156.42,491.05 L1156.80,489.68 L1157.19,488.30 L1157.57,486.92 L1157.96,485.55 L1158.35,484.17 L1158.75,482.79 L1159.14,481.41 L1159.54,480.03 L1159.94,478.64 L1160.34,477.26 L1160.74,475.88 L1161.15,474.49 L1161.56,473.11 L1161.97,471.73 L1162.38,470.34 L1162.79,468.96 L1163.21,467.57 L1163.63,466.18 L1164.05,464.80 L1164.47,463.41 L1164.89,462.03 L1165.32,460.65 L1165.75,459.26 L1166.18,457.88 L1166.61,456.49 L1167.05,455.11 L1167.48,453.73 L1167.92,452.35 L1168.36,450.97 L1168.81,449.59 L1169.25,448.21 L1169.70,446.84 L1170.15,445.46 L1170.60,444.09 L1171.05,442.71 L1171.51,441.34 L1171.97,439.97 L1172.43,438.60 L1172.89,437.23 L1173.35,435.86 L1173.82,434.50 L1174.29,433.13 L1174.76,431.77 L1175.23,430.40 L1175.70,429.04 L1176.18,427.68 L1176.66,426.32 L1177.14,424.96 L1177.62,423.60 L1178.11,422.25 L1178.59,420.89 L1179.08,419.54 L1179.57,418.19 L1180.07,416.84 L1180.56,415.49 L1181.06,414.14 L1181.56,412.80 L1182.06,411.45 L1182.56,410.11 L1183.07,408.77 L1183.58,407.43 L1184.09,406.09 L1184.60,404.75 L1185.11,403.42 L1185.63,402.08 L1186.15,400.75 L1186.67,399.42 L1187.19,398.09 L1187.71,396.76 L1188.24,395.43 L1188.77,394.11 L1189.30,392.79 L1189.83,391.46 L1190.37,390.15 L1190.91,388.83 L1191.44,387.51 L1191.99,386.20 L1192.53,384.88 L1193.07,383.57 L1193.62,382.26 L1194.17,380.95 L1194.72,379.65 L1195.28,378.34 L1195.83,377.04 L1196.39,375.74 L1196.95,374.44 L1197.51,373.15 L1198.08,371.85 L1198.64,370.56 L1199.21,369.27 L1199.78,367.98 L1200.35,366.69 L1200.93,365.40 L1201.50,364.12 L1202.08,362.84 L1202.66,361.56 L1203.25,360.28 L1203.83,359.01 L1204.42,357.73 L1205.01,356.46 L1205.60,355.19 L1206.19,353.92 L1206.79,352.66 L1207.39,351.40 L1207.98,350.13 L1208.59,348.88 L1209.19,347.62 L1209.80,346.36 L1210.40,345.11 L1211.01,343.86 L1211.63,342.61 L1212.24,341.37 L1212.86,340.12 L1213.47,338.88 L1214.09,337.64 L1214.72,336.41 L1215.34,335.17 L1215.97,333.94 L1216.60,332.71 L1217.23,331.48 L1217.86,330.26 L1218.50,329.04 L1219.13,327.82 L1219.77,326.60 L1220.41,325.38 L1221.06,324.17 L1221.70,322.96 L1222.35,321.75 L1223.00,320.55 L1223.65,319.34 L1224.30,318.14 L1224.96,316.94 L1225.62,315.75 L1226.28,314.55 L1226.94,313.36 L1227.60,312.18 L1228.27,310.99 L1228.94,309.81 L1229.61,308.63 L1230.28,307.45 L1230.96,306.28 L1231.63,305.10 L1232.31,303.93 L1232.99,302.77 L1233.68,301.60 L1234.36,300.44 L1235.05,299.28 L1235.74,298.13 L1236.43,296.98 L1237.12,295.83 L1237.82,294.68 L1238.52,293.53 L1239.22,292.39 L1239.92,291.25 L1240.62,290.12 L1241.33,288.98 L1242.03,287.85 L1242.74,286.73 L1243.46,285.60 L1244.17,284.48 L1244.89,283.36 L1245.61,282.25 L1246.33,281.13 L1247.05,280.02 L1247.77,278.92 L1248.50,277.81 L1249.23,276.71 L1249.96,275.62 L1250.69,274.52 L1251.43,273.43 L1252.17,272.34 L1252.90,271.26 L1253.65,270.17 L1254.39,269.10 L1255.13,268.02 L1255.88,266.95 L1256.63,265.88 L1257.38,264.81 L1258.14,263.75 L1258.89,262.69 L1259.65,261.63 L1260.41,260.58 L1261.17,259.53 L1261.94,258.48 L1262.70,257.44 L1263.47,256.40 L1264.24,255.36 L1265.02,254.33 L1265.79,253.30 L1266.57,252.27 L1267.35,251.25 L1268.13,250.23 L1268.91,249.22 L1269.70,248.20 L1270.48,247.19 L1271.27,246.19 L1272.06,245.18 L1272.86,244.19 L1273.65,243.19 L1274.45,242.20 L1275.25,241.21 L1276.05,240.22 L1276.86,239.24 L1277.66,238.26 L1278.47,237.29 L1279.28,236.31 L1280.09,235.35 L1280.91,234.38 L1281.72,233.42 L1282.54,232.46 L1283.36,231.51 L1284.19,230.55 L1285.01,229.60 L1285.84,228.66 L1286.67,227.72 L1287.50,226.78 L1288.33,225.84 L1289.16,224.91 L1290.00,223.98 L1290.84,223.06 L1291.68,222.13 L1292.53,221.21 L1293.37,220.30 L1294.22,219.39 L1295.07,218.48 L1295.92,217.57 L1296.78,216.67 L1297.63,215.77 L1298.49,214.87 L1299.35,213.98 L1300.21,213.09 L1301.08,212.20 L1301.94,211.32 L1302.81,210.43 L1303.68,209.56 L1304.56,208.68 L1305.43,207.81 L1306.31,206.94 L1307.19,206.08 L1308.07,205.22 L1308.95,204.36 L1309.84,203.50 L1310.72,202.65 L1311.61,201.80 L1312.50,200.95 L1313.40,200.11 L1314.29,199.27 L1315.19,198.43 L1316.09,197.60 L1316.99,196.77 L1317.90,195.94 L1318.80,195.11 L1319.71,194.29 L1320.62,193.47 L1321.53,192.66 L1322.45,191.84 L1323.36,191.03 L1324.28,190.23 L1325.20,189.42 L1326.13,188.62 L1327.05,187.82 L1327.98,187.03 L1328.91,186.24 L1329.84,185.45 L1330.77,184.66 L1331.71,183.88 L1332.64,183.10 L1333.58,182.32 L1334.52,181.55 L1335.47,180.77 L1336.41,180.01 L1337.36,179.24 L1338.31,178.48 L1339.26,177.72 L1340.22,176.96 L1341.17,176.21 L1342.13,175.45 L1343.09,174.71 L1344.06,173.96 L1345.02,173.22 L1345.99,172.48 L1346.95,171.74 L1347.93,171.01 L1348.90,170.28 L1349.87,169.55 L1350.85,168.82 L1351.83,168.10 L1352.81,167.38 L1353.79,166.66 L1354.78,165.94 L1355.77,165.23 L1356.76,164.52 L1357.75,163.82 L1358.74,163.11 L1359.74,162.41 L1360.73,161.71 L1361.73,161.02 L1362.74,160.33 L1363.74,159.64 L1364.75,158.95 L1365.76,158.26 L1366.77,157.58 L1367.78,156.90 L1368.79,156.23 L1369.81,155.55 L1370.83,154.88 L1371.85,154.21 L1372.87,153.55 L1373.90,152.88 L1374.92,152.22 L1375.95,151.56 L1376.98,150.91 L1378.02,150.25 L1379.05,149.60 L1380.09,148.96 L1381.13,148.31 L1382.17,147.67 L1383.22,147.03 L1384.26,146.39 L1385.31,145.76 L1386.36,145.12 L1387.41,144.49 L1388.47,143.87 L1389.52,143.24 L1390.58,142.62 L1391.64,142.00 L1392.70,141.38 L1393.77,140.77 L1394.83,140.16 L1395.90,139.55 L1396.97,138.94 L1398.05,138.34 L1399.12,137.73 L1400.20,137.13 L1401.28,136.54 L1402.36,135.94 L1403.44,135.35 L1404.53,134.76 L1405.62,134.17 L1406.70,133.59 L1407.80,133.00 L1408.89,132.42 L1409.99,131.85 L1411.08,131.27 L1412.18,130.70 L1413.29,130.13 L1414.39,129.56 L1415.50,128.99 L1416.61,128.43 L1417.72,127.87 L1418.83,127.31 L1419.94,126.75 L1421.06,126.20 L1422.18,125.64 L1423.30,125.10 L1424.42,124.55 L1425.55,124.00 L1426.67,123.46 L1427.80,122.92 L1428.93,122.38 L1430.07,121.85 L1431.20,121.31 L1432.34,120.78 L1433.48,120.25 L1434.62,119.72 L1435.77,119.20 L1436.91,118.68 L1438.06,118.16 L1439.21,117.64 L1440.36,117.12 L1441.52,116.61 L1442.67,116.10 L1443.83,115.59 L1444.99,115.08 L1446.15,114.58 L1447.32,114.08 L1448.49,113.58 L1449.66,113.08 L1450.83,112.58 L1452.00,112.09 L1453.17,111.60 L1454.35,111.11 L1455.53,110.62 L1456.71,110.13 L1457.90,109.65 L1459.08,109.17 L1460.27,108.69 L1461.46,108.21 L1462.65,107.74 L1463.84,107.27 L1465.04,106.80 L1466.24,106.33 L1467.44,105.86 L1468.64,105.40 L1469.84,104.94 L1471.05,104.48 L1472.26,104.02 L1473.47,103.56 L1474.68,103.11 L1475.90,102.66 L1477.11,102.21 L1478.33,101.76 L1479.55,101.31 L1480.78,100.87 L1482.00,100.43 L1483.23,99.99 L1484.46,99.55 L1485.69,99.12 L1486.92,98.69 L1488.16,98.25 L1489.40,97.83 L1490.64,97.40 L1491.88,96.97 L1493.12,96.55 L1494.37,96.13 L1495.62,95.71 L1496.87,95.29 L1498.12,94.88 L1499.37,94.47 L1500.63,94.06 L1501.89,93.65 L1503.15,93.24 L1504.41,92.83 L1505.68,92.43 L1506.94,92.03 L1508.21,91.63 L1509.48,91.23 L1510.76,90.84 L1512.03,90.45 L1513.31,90.05 L1514.59,89.67 L1515.87,89.28 L1517.15,88.89 L1518.44,88.51 L1519.73,88.13 L1521.02,87.75 L1522.31,87.37 L1523.60,86.99 L1524.90,86.62 L1526.20,86.25 L1527.50,85.88 L1528.80,85.51 L1530.10,85.14 L1531.41,84.78 L1532.72,84.42 L1534.03,84.06 L1535.34,83.70 L1536.66,83.34 L1537.97,82.98 L1539.29,82.63 L1540.61,82.28 L1541.94,81.93 L1543.26,81.58 L1544.59,81.24 L1545.92,80.89 L1547.25,80.55 L1548.58,80.21 L1549.92,79.87 L1551.26,79.53 L1552.60,79.20 L1553.94,78.87 L1555.28,78.54 L1556.63,78.21 L1557.98,77.88 L1559.33,77.55 L1560.68,77.23 L1562.03,76.91 L1563.39,76.59 L1564.75,76.27 L1566.11,75.95 L1567.47,75.63 L1568.84,75.32 L1570.21,75.01 L1571.57,74.70 L1572.95,74.39 L1574.32,74.09 L1575.69,73.78 L1577.07,73.48 L1578.45,73.18 L1579.83,72.88 L1581.22,72.58 L1582.60,72.28 L1583.99,71.99 L1585.38,71.70 L1586.77,71.41 L1588.17,71.12 L1589.56,70.83 L1590.96,70.54 L1592.36,70.26 L1593.76,69.98 L1595.17,69.70 L1596.57,69.42 L1597.98,69.14 L1599.39,68.86 L1600.81,68.59 L1602.22,68.32 L1603.64,68.05 L1605.06,67.78 L1606.48,67.51 L1607.90,67.24 L1609.33,66.98 L1610.75,66.72 L1612.18,66.46 L1613.62,66.20 L1615.05,65.94 L1616.49,65.68 L1617.92,65.43 L1619.36,65.18 L1620.80,64.93 L1622.25,64.68 L1623.70,64.43 L1625.14,64.18 L1626.59,63.94 L1628.05,63.69 L1629.50,63.45 L1630.96,63.21 L1632.42,62.97 L1633.88,62.74 L1635.34,62.50 L1636.80,62.27 L1638.27,62.04 L1639.74,61.80 L1641.21,61.58 L1642.69,61.35 L1644.16,61.12 L1645.64,60.90 L1647.12,60.67 L1648.60,60.45 L1650.08,60.23 L1651.57,60.01 L1653.06,59.80 L1654.55,59.58 L1656.04,59.37 L1657.53,59.16 L1659.03,58.94 L1660.53,58.74 L1662.03,58.53 L1663.53,58.32 L1665.04,58.12 L1666.54,57.91 L1668.05,57.71 L1669.56,57.51 L1671.07,57.31 L1672.59,57.11 L1674.11,56.92 L1675.63,56.72 L1677.15,56.53 L1678.67,56.34 L1680.20,56.15 L1681.72,55.96 L1683.25,55.77 L1684.79,55.58 L1686.32,55.40 L1687.85,55.21 L1689.39,55.03 L1690.93,54.85 L1692.47,54.67 L1694.02,54.49 L1695.57,54.32 L1697.11,54.14 L1698.66,53.97 L1700.22,53.80 L1701.77,53.63 L1703.33,53.46 L1704.89,53.29 L1706.45,53.12 L1708.01,52.96 L1709.58,52.79 L1711.14,52.63 L1712.71,52.47 L1714.28,52.31 L1715.86,52.15 L1717.43,51.99 L1719.01,51.84 L1720.59,51.68 L1722.17,51.53 L1723.76,51.38 L1725.34,51.22 L1726.93,51.07 L1728.52,50.93 L1730.11,50.78 L1731.71,50.63 L1733.30,50.49 L1734.90,50.35 L1736.50,50.20 L1738.10,50.06 L1739.71,49.92 L1741.32,49.79 L1742.92,49.65 L1744.54,49.51 L1746.15,49.38 L1747.76,49.25 L1749.38,49.12 L1751.00,48.99 L1752.62,48.86 L1754.24,48.73 L1755.87,48.60 L1757.50,48.48 L1759.13,48.35 L1760.76,48.23 L1762.39,48.11 L1764.03,47.98 L1765.67,47.87 L1767.31,47.75 L1768.95,47.63 L1770.59,47.51 L1772.24,47.40 L1773.89,47.29 L1775.54,47.17 L1777.19,47.06 L1778.85,46.95 L1780.50,46.84 L1782.16,46.73 L1783.82,46.63 L1785.49,46.52 L1787.15,46.42 L1788.82,46.31 L1790.49,46.21 L1792.16,46.11 L1793.83,46.01 L1795.51,45.91 L1797.19,45.82 L1798.87,45.72 L1800.55,45.62 L1802.23,45.53 L1803.92,45.44 L1805.61,45.34 L1807.30,45.25 L1808.99,45.16 L1810.68,45.07 L1812.38,44.99 L1814.08,44.90 L1815.78,44.81 L1817.48,44.73 L1819.19,44.65 L1820.89,44.56 L1822.60,44.48 L1824.31,44.40 L1826.03,44.32 L1827.74,44.24 L1829.46,44.17 L1831.18,44.09 L1832.90,44.02 L1834.62,43.94 L1836.35,43.87 L1838.08,43.80 L1839.81,43.72 L1841.54,43.65 L1843.27,43.59 L1845.01,43.52 L1846.75,43.45 L1848.49,43.38 L1850.23,43.32 L1851.97,43.25 L1853.72,43.19 L1855.47,43.13 L1857.22,43.07 L1858.97,43.01 L1860.73,42.95 L1862.48,42.89 L1864.24,42.83 L1866.00,42.78 L1867.77,42.72 L1869.53,42.67 L1871.30,42.61 L1873.07,42.56 L1874.84,42.51 L1876.61,42.46 L1878.39,42.41 L1880.17,42.36 L1881.95,42.31 L1883.73,42.26 L1885.51,42.22 L1887.30,42.17 L1889.09,42.13 L1890.88,42.08 L1892.67,42.04 L1894.47,42.00 L1896.26,41.96 L1898.06,41.92 L1899.86,41.88 L1901.66,41.84 L1903.47,41.80 L1905.28,41.76 L1907.08,41.73 L1908.90,41.69 L1910.71,41.66 L1912.52,41.62 L1914.34,41.59 L1916.16,41.56 L1917.98,41.53 L1919.81,41.50 L1921.63,41.47 L1923.46,41.44 L1925.29,41.41 L1927.12,41.39 L1928.96,41.36 L1930.79,41.33 L1932.63,41.31 L1934.47,41.29 L1936.31,41.26 L1938.16,41.24 L1940.00,41.22 L1941.85,41.20 L1943.70,41.18 L1945.56,41.16 L1947.41,41.14 L1949.27,41.12 L1951.13,41.11 L1952.99,41.09 L1954.85,41.07 L1956.72,41.06 L1958.59,41.04 L1960.45,41.03 L1962.33,41.02 L1964.20,41.01" stroke="#3a7cb9"/>
<path d="M1121.50,633.34 L1122.44,633.31 L1123.37,633.29 L1124.31,633.26 L1125.25,633.23 L1126.19,633.20 L1127.12,633.16 L1128.06,633.12 L1129.00,633.08 L1129.94,633.04 L1130.87,632.99 L1131.81,632.94 L1132.75,632.89 L1133.69,632.84 L1134.62,632.78 L1135.56,632.73 L1136.50,632.67 L1137.44,632.60 L1138.37,632.54 L1139.31,632.47 L1140.25,632.40 L1141.18,632.33 L1142.12,632.25 L1143.06,632.18 L1144.00,632.10 L1144.93,632.02 L1145.87,631.93 L1146.81,631.85 L1147.75,631.76 L1148.68,631.67 L1149.62,631.58 L1150.56,631.48 L1151.50,631.39 L1152.43,631.29 L1153.37,631.18 L1154.31,631.08 L1155.25,630.97 L1156.18,630.87 L1157.12,630.76 L1158.06,630.64 L1158.99,630.53 L1159.93,630.41 L1160.87,630.29 L1161.81,630.17 L1162.74,630.05 L1163.68,629.92 L1164.62,629.80 L1165.56,629.67 L1166.49,629.54 L1167.43,629.40 L1168.37,629.27 L1169.31,629.13 L1170.24,628.99 L1171.18,628.85 L1172.12,628.70 L1173.06,628.56 L1173.99,628.41 L1174.93,628.26 L1175.87,628.11 L1176.81,627.96 L1177.74,627.80 L1178.68,627.64 L1179.62,627.48 L1180.55,627.32 L1181.49,627.16 L1182.43,626.99 L1183.37,626.82 L1184.30,626.66 L1185.24,626.48 L1186.18,626.31 L1187.12,626.14 L1188.05,625.96 L1188.99,625.78 L1189.93,625.60 L1190.87,625.42 L1191.80,625.23 L1192.74,625.05 L1193.68,624.86 L1194.62,624.67 L1195.55,624.48 L1196.49,624.29 L1197.43,624.09 L1198.36,623.90 L1199.30,623.70 L1200.24,623.50 L1201.18,623.30 L1202.11,623.09 L1203.05,622.89 L1203.99,622.68 L1204.93,622.47 L1205.86,622.26 L1206.80,622.05 L1207.74,621.83 L1208.68,621.62 L1209.61,621.40 L1210.55,621.18 L1211.49,620.96 L1212.43,620.74 L1213.36,620.52 L1214.30,620.29 L1215.24,620.07 L1216.17,619.84 L1217.11,619.61 L1218.05,619.38 L1218.99,619.14 L1219.92,618.91 L1220.86,618.67 L1221.80,618.44 L1222.74,618.20 L1223.67,617.96 L1224.61,617.71 L1225.55,617.47 L1226.49,617.23 L1227.42,616.98 L1228.36,616.73 L1229.30,616.48 L1230.24,616.23 L1231.17,615.98 L1232.11,615.72 L1233.05,615.47 L1233.98,615.21 L1234.92,614.96 L1235.86,614.70 L1236.80,614.44 L1237.73,614.17 L1238.67,613.91 L1239.61,613.65 L1240.55,613.38 L1241.48,613.11 L1242.42,612.84 L1243.36,612.57 L1244.30,612.30 L1245.23,612.03 L1246.17,611.76 L1247.11,611.48 L1248.05,611.20 L1248.98,610.93 L1249.92,610.65 L1250.86,610.37 L1251.80,610.09 L1252.73,609.80 L1253.67,609.52 L1254.61,609.23 L1255.54,608.95 L1256.48,608.66 L1257.42,608.37 L1258.36,608.08 L1259.29,607.79 L1260.23,607.50 L1261.17,607.21 L1262.11,606.91 L1263.04,606.62 L1263.98,606.32 L1264.92,606.02 L1265.86,605.73 L1266.79,605.43 L1267.73,605.13 L1268.67,604.82 L1269.61,604.52 L1270.54,604.22 L1271.48,603.91 L1272.42,603.61 L1273.35,603.30 L1274.29,602.99 L1275.23,602.68 L1276.17,602.37 L1277.10,602.06 L1278.04,601.75 L1278.98,601.44 L1279.92,601.12 L1280.85,600.81 L1281.79,600.49 L1282.73,600.18 L1283.67,599.86 L1284.60,599.54 L1285.54,599.22 L1286.48,598.90 L1287.42,598.58 L1288.35,598.26 L1289.29,597.94 L1290.23,597.61 L1291.16,597.29 L1292.10,596.97 L1293.04,596.64 L1293.98,596.31 L1294.91,595.99 L1295.85,595.66 L1296.79,595.33 L1297.73,595.00 L1298.66,594.67 L1299.60,594.34 L1300.54,594.00 L1301.48,593.67 L1302.41,593.34 L1303.35,593.00 L1304.29,592.67 L1305.23,592.33 L1306.16,592.00 L1307.10,591.66 L1308.04,591.32 L1308.97,590.99 L1309.91,590.65 L1310.85,590.31 L1311.79,589.97 L1312.72,589.63 L1313.66,589.29 L1314.60,588.94 L1315.54,588.60 L1316.47,588.26 L1317.41,587.92 L1318.35,587.57 L1319.29,587.23 L1320.22,586.88 L1321.16,586.54 L1322.10,586.19 L1323.04,585.84 L1323.97,585.50 L1324.91,585.15 L1325.85,584.80 L1326.79,584.45 L1327.72,584.10 L1328.66,583.75 L1329.60,583.40 L1330.53,583.05 L1331.47,582.70 L1332.41,582.35 L1333.35,582.00 L1334.28,581.65 L1335.22,581.29 L1336.16,580.94 L1337.10,580.59 L1338.03,580.23 L1338.97,579.88 L1339.91,579.53 L1340.85,579.17 L1341.78,578.82 L1342.72,578.46 L1343.66,578.11 L1344.60,577.75 L1345.53,577.40 L1346.47,577.04 L1347.41,576.68 L1348.34,576.33 L1349.28,575.97 L1350.22,575.61 L1351.16,575.25 L1352.09,574.90 L1353.03,574.54 L1353.97,574.18 L1354.91,573.82 L1355.84,573.46 L1356.78,573.10 L1357.72,572.75 L1358.66,572.39 L1359.59,572.03 L1360.53,571.67 L1361.47,571.31 L1362.41,570.95 L1363.34,570.59 L1364.28,570.23 L1365.22,569.87 L1366.15,569.51 L1367.09,569.15 L1368.03,568.79 L1368.97,568.43 L1369.90,568.07 L1370.84,567.71 L1371.78,567.35 L1372.72,566.99 L1373.65,566.63 L1374.59,566.27 L1375.53,565.91 L1376.47,565.55 L1377.40,565.19 L1378.34,564.83 L1379.28,564.47 L1380.22,564.11 L1381.15,563.75 L1382.09,563.39 L1383.03,563.03 L1383.96,562.67 L1384.90,562.31 L1385.84,561.95 L1386.78,561.60 L1387.71,561.24 L1388.65,560.88 L1389.59,560.52 L1390.53,560.16 L1391.46,559.80 L1392.40,559.45 L1393.34,559.09 L1394.28,558.73 L1395.21,558.37 L1396.15,558.02 L1397.09,557.66 L1398.03,557.30 L1398.96,556.95 L1399.90,556.59 L1400.84,556.23 L1401.78,555.88 L1402.71,555.52 L1403.65,555.17 L1404.59,554.81 L1405.52,554.46 L1406.46,554.10 L1407.40,553.75 L1408.34,553.40 L1409.27,553.04 L1410.21,552.69 L1411.15,552.34 L1412.09,551.98 L1413.02,551.63 L1413.96,551.28 L1414.90,550.93 L1415.84,550.58 L1416.77,550.23 L1417.71,549.87 L1418.65,549.52 L1419.59,549.17 L1420.52,548.82 L1421.46,548.47 L1422.40,548.12 L1423.33,547.78 L1424.27,547.43 L1425.21,547.08 L1426.15,546.73 L1427.08,546.38 L1428.02,546.03 L1428.96,545.69 L1429.90,545.34 L1430.83,544.99 L1431.77,544.65 L1432.71,544.30 L1433.65,543.95 L1434.58,543.61 L1435.52,543.26 L1436.46,542.92 L1437.40,542.57 L1438.33,542.23 L1439.27,541.88 L1440.21,541.54 L1441.14,541.20 L1442.08,540.85 L1443.02,540.51 L1443.96,540.17 L1444.89,539.82 L1445.83,539.48 L1446.77,539.14 L1447.71,538.80 L1448.64,538.46 L1449.58,538.12 L1450.52,537.77 L1451.46,537.43 L1452.39,537.09 L1453.33,536.75 L1454.27,536.41 L1455.21,536.07 L1456.14,535.74 L1457.08,535.40 L1458.02,535.06 L1458.95,534.72 L1459.89,534.38 L1460.83,534.04 L1461.77,533.71 L1462.70,533.37 L1463.64,533.03 L1464.58,532.70 L1465.52,532.36 L1466.45,532.02 L1467.39,531.69 L1468.33,531.35 L1469.27,531.02 L1470.20,530.68 L1471.14,530.35 L1472.08,530.02 L1473.02,529.68 L1473.95,529.35 L1474.89,529.02 L1475.83,528.68 L1476.77,528.35 L1477.70,528.02 L1478.64,527.69 L1479.58,527.35 L1480.51,527.02 L1481.45,526.69 L1482.39,526.36 L1483.33,526.03 L1484.26,525.70 L1485.20,525.37 L1486.14,525.04 L1487.08,524.71 L1488.01,524.38 L1488.95,524.05 L1489.89,523.72 L1490.83,523.40 L1491.76,523.07 L1492.70,522.74 L1493.64,522.41 L1494.58,522.09 L1495.51,521.76 L1496.45,521.43 L1497.39,521.11 L1498.32,520.78 L1499.26,520.46 L1500.20,520.13 L1501.14,519.81 L1502.07,519.48 L1503.01,519.16 L1503.95,518.83 L1504.89,518.51 L1505.82,518.19 L1506.76,517.86 L1507.70,517.54 L1508.64,517.22 L1509.57,516.90 L1510.51,516.58 L1511.45,516.25 L1512.39,515.93 L1513.32,515.61 L1514.26,515.29 L1515.20,514.97 L1516.13,514.65 L1517.07,514.33 L1518.01,514.01 L1518.95,513.69 L1519.88,513.37 L1520.82,513.06 L1521.76,512.74 L1522.70,512.42 L1523.63,512.10 L1524.57,511.79 L1525.51,511.47 L1526.45,511.15 L1527.38,510.84 L1528.32,510.52 L1529.26,510.20 L1530.20,509.89 L1531.13,509.57 L1532.07,509.26 L1533.01,508.95 L1533.94,508.63 L1534.88,508.32 L1535.82,508.00 L1536.76,507.69 L1537.69,507.38 L1538.63,507.07 L1539.57,506.75 L1540.51,506.44 L1541.44,506.13 L1542.38,505.82 L1543.32,505.51 L1544.26,505.20 L1545.19,504.89 L1546.13,504.58 L1547.07,504.27 L1548.01,503.96 L1548.94,503.65 L1549.88,503.34 L1550.82,503.03 L1551.76,502.72 L1552.69,502.42 L1553.63,502.11 L1554.57,501.80 L1555.50,501.50 L1556.44,501.19 L1557.38,500.88 L1558.32,500.58 L1559.25,500.27 L1560.19,499.97 L1561.13,499.66 L1562.07,499.36 L1563.00,499.05 L1563.94,498.75 L1564.88,498.45 L1565.82,498.14 L1566.75,497.84 L1567.69,497.54 L1568.63,497.23 L1569.57,496.93 L1570.50,496.63 L1571.44,496.33 L1572.38,496.03 L1573.31,495.73 L1574.25,495.43 L1575.19,495.13 L1576.13,494.83 L1577.06,494.53 L1578.00,494.23 L1578.94,493.93 L1579.88,493.63 L1580.81,493.33 L1581.75,493.04 L1582.69,492.74 L1583.63,492.44 L1584.56,492.14 L1585.50,491.85 L1586.44,491.55 L1587.38,491.26 L1588.31,490.96 L1589.25,490.67 L1590.19,490.37 L1591.12,490.08 L1592.06,489.78 L1593.00,489.49 L1593.94,489.19 L1594.87,488.90 L1595.81,488.61 L1596.75,488.32 L1597.69,488.02 L1598.62,487.73 L1599.56,487.44 L1600.50,487.15 L1601.44,486.86 L1602.37,486.57 L1603.31,486.28 L1604.25,485.99 L1605.19,485.70 L1606.12,485.41 L1607.06,485.12 L1608.00,484.83 L1608.93,484.54 L1609.87,484.26 L1610.81,483.97 L1611.75,483.68 L1612.68,483.39 L1613.62,483.11 L1614.56,482.82 L1615.50,482.54 L1616.43,482.25 L1617.37,481.96 L1618.31,481.68 L1619.25,481.39 L1620.18,481.11 L1621.12,480.83 L1622.06,480.54 L1623.00,480.26 L1623.93,479.98 L1624.87,479.69 L1625.81,479.41 L1626.75,479.13 L1627.68,478.85 L1628.62,478.57 L1629.56,478.29 L1630.49,478.01 L1631.43,477.73 L1632.37,477.45 L1633.31,477.17 L1634.24,476.89 L1635.18,476.61 L1636.12,476.33 L1637.06,476.05 L1637.99,475.77 L1638.93,475.50 L1639.87,475.22 L1640.81,474.94 L1641.74,474.67 L1642.68,474.39 L1643.62,474.12 L1644.56,473.84 L1645.49,473.56 L1646.43,473.29 L1647.37,473.02 L1648.30,472.74 L1649.24,472.47 L1650.18,472.19 L1651.12,471.92 L1652.05,471.65 L1652.99,471.38 L1653.93,471.10 L1654.87,470.83 L1655.80,470.56 L1656.74,470.29 L1657.68,470.02 L1658.62,469.75 L1659.55,469.48 L1660.49,469.21 L1661.43,468.94 L1662.37,468.67 L1663.30,468.40 L1664.24,468.14 L1665.18,467.87 L1666.11,467.60 L1667.05,467.33 L1667.99,467.07 L1668.93,466.80 L1669.86,466.53 L1670.80,466.27 L1671.74,466.00 L1672.68,465.74 L1673.61,465.47 L1674.55,465.21 L1675.49,464.94 L1676.43,464.68 L1677.36,464.42 L1678.30,464.15 L1679.24,463.89 L1680.18,463.63 L1681.11,463.37 L1682.05,463.11 L1682.99,462.85 L1683.92,462.58 L1684.86,462.32 L1685.80,462.06 L1686.74,461.80 L1687.67,461.54 L1688.61,461.29 L1689.55,461.03 L1690.49,460.77 L1691.42,460.51 L1692.36,460.25 L1693.30,460.00 L1694.24,459.74 L1695.17,459.48 L1696.11,459.23 L1697.05,458.97 L1697.99,458.71 L1698.92,458.46 L1699.86,458.20 L1700.80,457.95 L1701.74,457.70 L1702.67,457.44 L1703.61,457.19 L1704.55,456.94 L1705.48,456.68 L1706.42,456.43 L1707.36,456.18 L1708.30,455.93 L1709.23,455.68 L1710.17,455.43 L1711.11,455.18 L1712.05,454.93 L1712.98,454.68 L1713.92,454.43 L1714.86,454.18 L1715.80,453.93 L1716.73,453.68 L1717.67,453.43 L1718.61,453.18 L1719.55,452.94 L1720.48,452.69 L1721.42,452.44 L1722.36,452.20 L1723.29,451.95 L1724.23,451.71 L1725.17,451.46 L1726.11,451.22 L1727.04,450.97 L1727.98,450.73 L1728.92,450.48 L1729.86,450.24 L1730.79,450.00 L1731.73,449.76 L1732.67,449.51 L1733.61,449.27 L1734.54,449.03 L1735.48,448.79 L1736.42,448.55 L1737.36,448.31 L1738.29,448.07 L1739.23,447.83 L1740.17,447.59 L1741.10,447.35 L1742.04,447.11 L1742.98,446.87 L1743.92,446.64 L1744.85,446.40 L1745.79,446.16 L1746.73,445.93 L1747.67,445.69 L1748.60,445.45 L1749.54,445.22 L1750.48,444.98 L1751.42,444.75 L1752.35,444.51 L1753.29,444.28 L1754.23,444.05 L1755.17,443.81 L1756.10,443.58 L1757.04,443.35 L1757.98,443.12 L1758.91,442.88 L1759.85,442.65 L1760.79,442.42 L1761.73,442.19 L1762.66,441.96 L1763.60,441.73 L1764.54,441.50 L1765.48,441.27 L1766.41,441.04 L1767.35,440.81 L1768.29,440.59 L1769.23,440.36 L1770.16,440.13 L1771.10,439.90 L1772.04,439.68 L1772.98,439.45 L1773.91,439.23 L1774.85,439.00 L1775.79,438.78 L1776.73,438.55 L1777.66,438.33 L1778.60,438.10 L1779.54,437.88 L1780.47,437.66 L1781.41,437.43 L1782.35,437.21 L1783.29,436.99 L1784.22,436.77 L1785.16,436.55 L1786.10,436.32 L1787.04,436.10 L1787.97,435.88 L1788.91,435.66 L1789.85,435.44 L1790.79,435.23 L1791.72,435.01 L1792.66,434.79 L1793.60,434.57 L1794.54,434.35 L1795.47,434.14 L1796.41,433.92 L1797.35,433.70 L1798.28,433.49 L1799.22,433.27 L1800.16,433.06 L1801.10,432.84 L1802.03,432.63 L1802.97,432.41 L1803.91,432.20 L1804.85,431.99 L1805.78,431.77 L1806.72,431.56 L1807.66,431.35 L1808.60,431.14 L1809.53,430.93 L1810.47,430.72 L1811.41,430.51 L1812.35,430.29 L1813.28,430.09 L1814.22,429.88 L1815.16,429.67 L1816.09,429.46 L1817.03,429.25 L1817.97,429.04 L1818.91,428.83 L1819.84,428.63 L1820.78,428.42 L1821.72,428.21 L1822.66,428.01 L1823.59,427.80 L1824.53,427.60 L1825.47,427.39 L1826.41,427.19 L1827.34,426.99 L1828.28,426.78 L1829.22,426.58 L1830.16,426.38 L1831.09,426.17 L1832.03,425.97 L1832.97,425.77 L1833.90,425.57 L1834.84,425.37 L1835.78,425.17 L1836.72,424.97 L1837.65,424.77 L1838.59,424.57 L1839.53,424.37 L1840.47,424.17 L1841.40,423.97 L1842.34,423.78 L1843.28,423.58 L1844.22,423.38 L1845.15,423.19 L1846.09,422.99 L1847.03,422.79 L1847.97,422.60 L1848.90,422.40 L1849.84,422.21 L1850.78,422.01 L1851.72,421.82 L1852.65,421.63 L1853.59,421.44 L1854.53,421.24 L1855.46,421.05 L1856.40,420.86 L1857.34,420.67 L1858.28,420.48 L1859.21,420.29 L1860.15,420.10 L1861.09,419.91 L1862.03,419.72 L1862.96,419.53 L1863.90,419.34 L1864.84,419.15 L1865.78,418.96 L1866.71,418.78 L1867.65,418.59 L1868.59,418.40 L1869.53,418.22 L1870.46,418.03 L1871.40,417.85 L1872.34,417.66 L1873.27,417.48 L1874.21,417.29 L1875.15,417.11 L1876.09,416.93 L1877.02,416.74 L1877.96,416.56 L1878.90,416.38 L1879.84,416.20 L1880.77,416.02 L1881.71,415.83 L1882.65,415.65 L1883.59,415.47 L1884.52,415.29 L1885.46,415.12 L1886.40,414.94 L1887.34,414.76 L1888.27,414.58 L1889.21,414.40 L1890.15,414.23 L1891.08,414.05 L1892.02,413.87 L1892.96,413.70 L1893.90,413.52 L1894.83,413.35 L1895.77,413.17 L1896.71,413.00 L1897.65,412.82 L1898.58,412.65 L1899.52,412.48 L1900.46,412.30 L1901.40,412.13 L1902.33,411.96 L1903.27,411.79 L1904.21,411.62 L1905.15,411.45 L1906.08,411.28 L1907.02,411.11 L1907.96,410.94 L1908.89,410.77 L1909.83,410.60 L1910.77,410.43 L1911.71,410.26 L1912.64,410.10 L1913.58,409.93 L1914.52,409.76 L1915.46,409.60 L1916.39,409.43 L1917.33,409.27 L1918.27,409.10 L1919.21,408.94 L1920.14,408.77 L1921.08,408.61 L1922.02,408.45 L1922.96,408.28 L1923.89,408.12 L1924.83,407.96 L1925.77,407.80 L1926.71,407.64 L1927.64,407.48 L1928.58,407.32 L1929.52,407.16 L1930.45,407.00 L1931.39,406.84 L1932.33,406.68 L1933.27,406.52 L1934.20,406.36 L1935.14,406.21 L1936.08,406.05 L1937.02,405.89 L1937.95,405.74 L1938.89,405.58 L1939.83,405.43 L1940.77,405.27 L1941.70,405.12 L1942.64,404.96 L1943.58,404.81 L1944.52,404.66 L1945.45,404.50 L1946.39,404.35 L1947.33,404.20 L1948.26,404.05 L1949.20,403.90 L1950.14,403.75 L1951.08,403.60 L1952.01,403.45 L1952.95,403.30 L1953.89,403.15 L1954.83,403.00 L1955.76,402.85 L1956.70,402.70 L1957.64,402.56 L1958.58,402.41 L1959.51,402.26 L1960.45,402.12 L1961.39,401.97 L1962.33,401.83 L1963.26,401.68 L1964.20,401.54" stroke="#dc9e2c"/>
<path d="M1121.50,633.89 L1122.44,633.91 L1123.37,633.92 L1124.31,633.93 L1125.25,633.94 L1126.19,633.95 L1127.12,633.95 L1128.06,633.96 L1129.00,633.97 L1129.94,633.98 L1130.87,633.99 L1131.81,634.00 L1132.75,634.01 L1133.69,634.01 L1134.62,634.02 L1135.56,634.03 L1136.50,634.03 L1137.44,634.04 L1138.37,634.05 L1139.31,634.05 L1140.25,634.06 L1141.18,634.07 L1142.12,634.07 L1143.06,634.08 L1144.00,634.08 L1144.93,634.09 L1145.87,634.09 L1146.81,634.10 L1147.75,634.10 L1148.68,634.10 L1149.62,634.11 L1150.56,634.11 L1151.50,634.11 L1152.43,634.12 L1153.37,634.12 L1154.31,634.12 L1155.25,634.12 L1156.18,634.13 L1157.12,634.13 L1158.06,634.13 L1158.99,634.13 L1159.93,634.13 L1160.87,634.13 L1161.81,634.13 L1162.74,634.13 L1163.68,634.13 L1164.62,634.13 L1165.56,634.13 L1166.49,634.13 L1167.43,634.13 L1168.37,634.13 L1169.31,634.13 L1170.24,634.13 L1171.18,634.13 L1172.12,634.13 L1173.06,634.12 L1173.99,634.12 L1174.93,634.12 L1175.87,634.12 L1176.81,634.11 L1177.74,634.11 L1178.68,634.11 L1179.62,634.10 L1180.55,634.10 L1181.49,634.10 L1182.43,634.09 L1183.37,634.09 L1184.30,634.08 L1185.24,634.08 L1186.18,634.07 L1187.12,634.07 L1188.05,634.06 L1188.99,634.05 L1189.93,634.05 L1190.87,634.04 L1191.80,634.04 L1192.74,634.03 L1193.68,634.02 L1194.62,634.01 L1195.55,634.01 L1196.49,634.00 L1197.43,633.99 L1198.36,633.98 L1199.30,633.98 L1200.24,633.97 L1201.18,633.96 L1202.11,633.95 L1203.05,633.94 L1203.99,633.93 L1204.93,633.92 L1205.86,633.91 L1206.80,633.90 L1207.74,633.89 L1208.68,633.88 L1209.61,633.87 L1210.55,633.86 L1211.49,633.85 L1212.43,633.84 L1213.36,633.82 L1214.30,633.81 L1215.24,633.80 L1216.17,633.79 L1217.11,633.78 L1218.05,633.76 L1218.99,633.75 L1219.92,633.74 L1220.86,633.72 L1221.80,633.71 L1222.74,633.70 L1223.67,633.68 L1224.61,633.67 L1225.55,633.66 L1226.49,633.64 L1227.42,633.63 L1228.36,633.61 L1229.30,633.60 L1230.24,633.58 L1231.17,633.56 L1232.11,633.55 L1233.05,633.53 L1233.98,633.52 L1234.92,633.50 L1235.86,633.48 L1236.80,633.47 L1237.73,633.45 L1238.67,633.43 L1239.61,633.42 L1240.55,633.40 L1241.48,633.38 L1242.42,633.36 L1243.36,633.34 L1244.30,633.32 L1245.23,633.31 L1246.17,633.29 L1247.11,633.27 L1248.05,633.25 L1248.98,633.23 L1249.92,633.21 L1250.86,633.19 L1251.80,633.17 L1252.73,633.15 L1253.67,633.13 L1254.61,633.11 L1255.54,633.09 L1256.48,633.07 L1257.42,633.04 L1258.36,633.02 L1259.29,633.00 L1260.23,632.98 L1261.17,632.96 L1262.11,632.93 L1263.04,632.91 L1263.98,632.89 L1264.92,632.87 L1265.86,632.84 L1266.79,632.82 L1267.73,632.80 L1268.67,632.77 L1269.61,632.75 L1270.54,632.72 L1271.48,632.70 L1272.42,632.68 L1273.35,632.65 L1274.29,632.63 L1275.23,632.60 L1276.17,632.58 L1277.10,632.55 L1278.04,632.52 L1278.98,632.50 L1279.92,632.47 L1280.85,632.45 L1281.79,632.42 L1282.73,632.39 L1283.67,632.37 L1284.60,632.34 L1285.54,632.31 L1286.48,632.28 L1287.42,632.26 L1288.35,632.23 L1289.29,632.20 L1290.23,632.17 L1291.16,632.14 L1292.10,632.11 L1293.04,632.09 L1293.98,632.06 L1294.91,632.03 L1295.85,632.00 L1296.79,631.97 L1297.73,631.94 L1298.66,631.91 L1299.60,631.88 L1300.54,631.85 L1301.48,631.82 L1302.41,631.79 L1303.35,631.76 L1304.29,631.72 L1305.23,631.69 L1306.16,631.66 L1307.10,631.63 L1308.04,631.60 L1308.97,631.57 L1309.91,631.53 L1310.85,631.50 L1311.79,631.47 L1312.72,631.44 L1313.66,631.40 L1314.60,631.37 L1315.54,631.34 L1316.47,631.30 L1317.41,631.27 L1318.35,631.24 L1319.29,631.20 L1320.22,631.17 L1321.16,631.13 L1322.10,631.10 L1323.04,631.06 L1323.97,631.03 L1324.91,630.99 L1325.85,630.96 L1326.79,630.92 L1327.72,630.89 L1328.66,630.85 L1329.60,630.81 L1330.53,630.78 L1331.47,630.74 L1332.41,630.71 L1333.35,630.67 L1334.28,630.63 L1335.22,630.59 L1336.16,630.56 L1337.10,630.52 L1338.03,630.48 L1338.97,630.44 L1339.91,630.41 L1340.85,630.37 L1341.78,630.33 L1342.72,630.29 L1343.66,630.25 L1344.60,630.21 L1345.53,630.17 L1346.47,630.13 L1347.41,630.09 L1348.34,630.05 L1349.28,630.02 L1350.22,629.98 L1351.16,629.93 L1352.09,629.89 L1353.03,629.85 L1353.97,629.81 L1354.91,629.77 L1355.84,629.73 L1356.78,629.69 L1357.72,629.65 L1358.66,629.61 L1359.59,629.57 L1360.53,629.52 L1361.47,629.48 L1362.41,629.44 L1363.34,629.40 L1364.28,629.35 L1365.22,629.31 L1366.15,629.27 L1367.09,629.23 L1368.03,629.18 L1368.97,629.14 L1369.90,629.09 L1370.84,629.05 L1371.78,629.01 L1372.72,628.96 L1373.65,628.92 L1374.59,628.87 L1375.53,628.83 L1376.47,628.78 L1377.40,628.74 L1378.34,628.69 L1379.28,628.65 L1380.22,628.60 L1381.15,628.56 L1382.09,628.51 L1383.03,628.47 L1383.96,628.42 L1384.90,628.37 L1385.84,628.33 L1386.78,628.28 L1387.71,628.23 L1388.65,628.19 L1389.59,628.14 L1390.53,628.09 L1391.46,628.04 L1392.40,628.00 L1393.34,627.95 L1394.28,627.90 L1395.21,627.85 L1396.15,627.80 L1397.09,627.76 L1398.03,627.71 L1398.96,627.66 L1399.90,627.61 L1400.84,627.56 L1401.78,627.51 L1402.71,627.46 L1403.65,627.41 L1404.59,627.36 L1405.52,627.31 L1406.46,627.26 L1407.40,627.21 L1408.34,627.16 L1409.27,627.11 L1410.21,627.06 L1411.15,627.01 L1412.09,626.96 L1413.02,626.91 L1413.96,626.86 L1414.90,626.81 L1415.84,626.75 L1416.77,626.70 L1417.71,626.65 L1418.65,626.60 L1419.59,626.55 L1420.52,626.49 L1421.46,626.44 L1422.40,626.39 L1423.33,626.34 L1424.27,626.28 L1425.21,626.23 L1426.15,626.18 L1427.08,626.12 L1428.02,626.07 L1428.96,626.02 L1429.90,625.96 L1430.83,625.91 L1431.77,625.85 L1432.71,625.80 L1433.65,625.74 L1434.58,625.69 L1435.52,625.63 L1436.46,625.58 L1437.40,625.52 L1438.33,625.47 L1439.27,625.41 L1440.21,625.36 L1441.14,625.30 L1442.08,625.25 L1443.02,625.19 L1443.96,625.13 L1444.89,625.08 L1445.83,625.02 L1446.77,624.96 L1447.71,624.91 L1448.64,624.85 L1449.58,624.79 L1450.52,624.74 L1451.46,624.68 L1452.39,624.62 L1453.33,624.56 L1454.27,624.51 L1455.21,624.45 L1456.14,624.39 L1457.08,624.33 L1458.02,624.27 L1458.95,624.22 L1459.89,624.16 L1460.83,624.10 L1461.77,624.04 L1462.70,623.98 L1463.64,623.92 L1464.58,623.86 L1465.52,623.80 L1466.45,623.74 L1467.39,623.68 L1468.33,623.62 L1469.27,623.56 L1470.20,623.50 L1471.14,623.44 L1472.08,623.38 L1473.02,623.32 L1473.95,623.26 L1474.89,623.20 L1475.83,623.14 L1476.77,623.08 L1477.70,623.02 L1478.64,622.95 L1479.58,622.89 L1480.51,622.83 L1481.45,622.77 L1482.39,622.71 L1483.33,622.64 L1484.26,622.58 L1485.20,622.52 L1486.14,622.46 L1487.08,622.39 L1488.01,622.33 L1488.95,622.27 L1489.89,622.21 L1490.83,622.14 L1491.76,622.08 L1492.70,622.02 L1493.64,621.95 L1494.58,621.89 L1495.51,621.82 L1496.45,621.76 L1497.39,621.70 L1498.32,621.63 L1499.26,621.57 L1500.20,621.50 L1501.14,621.44 L1502.07,621.37 L1503.01,621.31 L1503.95,621.24 L1504.89,621.18 L1505.82,621.11 L1506.76,621.05 L1507.70,620.98 L1508.64,620.92 L1509.57,620.85 L1510.51,620.78 L1511.45,620.72 L1512.39,620.65 L1513.32,620.59 L1514.26,620.52 L1515.20,620.45 L1516.13,620.39 L1517.07,620.32 L1518.01,620.25 L1518.95,620.18 L1519.88,620.12 L1520.82,620.05 L1521.76,619.98 L1522.70,619.91 L1523.63,619.85 L1524.57,619.78 L1525.51,619.71 L1526.45,619.64 L1527.38,619.57 L1528.32,619.51 L1529.26,619.44 L1530.20,619.37 L1531.13,619.30 L1532.07,619.23 L1533.01,619.16 L1533.94,619.09 L1534.88,619.02 L1535.82,618.95 L1536.76,618.88 L1537.69,618.81 L1538.63,618.75 L1539.57,618.68 L1540.51,618.61 L1541.44,618.54 L1542.38,618.46 L1543.32,618.39 L1544.26,618.32 L1545.19,618.25 L1546.13,618.18 L1547.07,618.11 L1548.01,618.04 L1548.94,617.97 L1549.88,617.90 L1550.82,617.83 L1551.76,617.76 L1552.69,617.68 L1553.63,617.61 L1554.57,617.54 L1555.50,617.47 L1556.44,617.40 L1557.38,617.33 L1558.32,617.25 L1559.25,617.18 L1560.19,617.11 L1561.13,617.04 L1562.07,616.96 L1563.00,616.89 L1563.94,616.82 L1564.88,616.74 L1565.82,616.67 L1566.75,616.60 L1567.69,616.52 L1568.63,616.45 L1569.57,616.38 L1570.50,616.30 L1571.44,616.23 L1572.38,616.16 L1573.31,616.08 L1574.25,616.01 L1575.19,615.93 L1576.13,615.86 L1577.06,615.78 L1578.00,615.71 L1578.94,615.64 L1579.88,615.56 L1580.81,615.49 L1581.75,615.41 L1582.69,615.34 L1583.63,615.26 L1584.56,615.19 L1585.50,615.11 L1586.44,615.03 L1587.38,614.96 L1588.31,614.88 L1589.25,614.81 L1590.19,614.73 L1591.12,614.66 L1592.06,614.58 L1593.00,614.50 L1593.94,614.43 L1594.87,614.35 L1595.81,614.27 L1596.75,614.20 L1597.69,614.12 L1598.62,614.04 L1599.56,613.97 L1600.50,613.89 L1601.44,613.81 L1602.37,613.73 L1603.31,613.66 L1604.25,613.58 L1605.19,613.50 L1606.12,613.42 L1607.06,613.35 L1608.00,613.27 L1608.93,613.19 L1609.87,613.11 L1610.81,613.03 L1611.75,612.96 L1612.68,612.88 L1613.62,612.80 L1614.56,612.72 L1615.50,612.64 L1616.43,612.56 L1617.37,612.48 L1618.31,612.40 L1619.25,612.33 L1620.18,612.25 L1621.12,612.17 L1622.06,612.09 L1623.00,612.01 L1623.93,611.93 L1624.87,611.85 L1625.81,611.77 L1626.75,611.69 L1627.68,611.61 L1628.62,611.53 L1629.56,611.45 L1630.49,611.37 L1631.43,611.29 L1632.37,611.21 L1633.31,611.13 L1634.24,611.05 L1635.18,610.97 L1636.12,610.88 L1637.06,610.80 L1637.99,610.72 L1638.93,610.64 L1639.87,610.56 L1640.81,610.48 L1641.74,610.40 L1642.68,610.32 L1643.62,610.23 L1644.56,610.15 L1645.49,610.07 L1646.43,609.99 L1647.37,609.91 L1648.30,609.83 L1649.24,609.74 L1650.18,609.66 L1651.12,609.58 L1652.05,609.50 L1652.99,609.41 L1653.93,609.33 L1654.87,609.25 L1655.80,609.17 L1656.74,609.08 L1657.68,609.00 L1658.62,608.92 L1659.55,608.83 L1660.49,608.75 L1661.43,608.67 L1662.37,608.59 L1663.30,608.50 L1664.24,608.42 L1665.18,608.33 L1666.11,608.25 L1667.05,608.17 L1667.99,608.08 L1668.93,608.00 L1669.86,607.92 L1670.80,607.83 L1671.74,607.75 L1672.68,607.66 L1673.61,607.58 L1674.55,607.49 L1675.49,607.41 L1676.43,607.33 L1677.36,607.24 L1678.30,607.16 L1679.24,607.07 L1680.18,606.99 L1681.11,606.90 L1682.05,606.82 L1682.99,606.73 L1683.92,606.65 L1684.86,606.56 L1685.80,606.48 L1686.74,606.39 L1687.67,606.30 L1688.61,606.22 L1689.55,606.13 L1690.49,606.05 L1691.42,605.96 L1692.36,605.88 L1693.30,605.79 L1694.24,605.70 L1695.17,605.62 L1696.11,605.53 L1697.05,605.45 L1697.99,605.36 L1698.92,605.27 L1699.86,605.19 L1700.80,605.10 L1701.74,605.01 L1702.67,604.93 L1703.61,604.84 L1704.55,604.75 L1705.48,604.67 L1706.42,604.58 L1707.36,604.49 L1708.30,604.41 L1709.23,604.32 L1710.17,604.23 L1711.11,604.14 L1712.05,604.06 L1712.98,603.97 L1713.92,603.88 L1714.86,603.79 L1715.80,603.71 L1716.73,603.62 L1717.67,603.53 L1718.61,603.44 L1719.55,603.35 L1720.48,603.27 L1721.42,603.18 L1722.36,603.09 L1723.29,603.00 L1724.23,602.91 L1725.17,602.82 L1726.11,602.74 L1727.04,602.65 L1727.98,602.56 L1728.92,602.47 L1729.86,602.38 L1730.79,602.29 L1731.73,602.20 L1732.67,602.12 L1733.61,602.03 L1734.54,601.94 L1735.48,601.85 L1736.42,601.76 L1737.36,601.67 L1738.29,601.58 L1739.23,601.49 L1740.17,601.40 L1741.10,601.31 L1742.04,601.22 L1742.98,601.13 L1743.92,601.04 L1744.85,600.95 L1745.79,600.86 L1746.73,600.77 L1747.67,600.68 L1748.60,600.59 L1749.54,600.50 L1750.48,600.41 L1751.42,600.32 L1752.35,600.23 L1753.29,600.14 L1754.23,600.05 L1755.17,599.96 L1756.10,599.87 L1757.04,599.78 L1757.98,599.69 L1758.91,599.60 L1759.85,599.51 L1760.79,599.42 L1761.73,599.33 L1762.66,599.24 L1763.60,599.15 L1764.54,599.06 L1765.48,598.97 L1766.41,598.87 L1767.35,598.78 L1768.29,598.69 L1769.23,598.60 L1770.16,598.51 L1771.10,598.42 L1772.04,598.33 L1772.98,598.24 L1773.91,598.14 L1774.85,598.05 L1775.79,597.96 L1776.73,597.87 L1777.66,597.78 L1778.60,597.69 L1779.54,597.59 L1780.47,597.50 L1781.41,597.41 L1782.35,597.32 L1783.29,597.23 L1784.22,597.13 L1785.16,597.04 L1786.10,596.95 L1787.04,596.86 L1787.97,596.77 L1788.91,596.67 L1789.85,596.58 L1790.79,596.49 L1791.72,596.40 L1792.66,596.30 L1793.60,596.21 L1794.54,596.12 L1795.47,596.03 L1796.41,595.93 L1797.35,595.84 L1798.28,595.75 L1799.22,595.66 L1800.16,595.56 L1801.10,595.47 L1802.03,595.38 L1802.97,595.28 L1803.91,595.19 L1804.85,595.10 L1805.78,595.00 L1806.72,594.91 L1807.66,594.82 L1808.60,594.73 L1809.53,594.63 L1810.47,594.54 L1811.41,594.45 L1812.35,594.35 L1813.28,594.26 L1814.22,594.16 L1815.16,594.07 L1816.09,593.98 L1817.03,593.88 L1817.97,593.79 L1818.91,593.70 L1819.84,593.60 L1820.78,593.51 L1821.72,593.42 L1822.66,593.32 L1823.59,593.23 L1824.53,593.13 L1825.47,593.04 L1826.41,592.95 L1827.34,592.85 L1828.28,592.76 L1829.22,592.66 L1830.16,592.57 L1831.09,592.48 L1832.03,592.38 L1832.97,592.29 L1833.90,592.19 L1834.84,592.10 L1835.78,592.00 L1836.72,591.91 L1837.65,591.82 L1838.59,591.72 L1839.53,591.63 L1840.47,591.53 L1841.40,591.44 L1842.34,591.34 L1843.28,591.25 L1844.22,591.15 L1845.15,591.06 L1846.09,590.96 L1847.03,590.87 L1847.97,590.77 L1848.90,590.68 L1849.84,590.59 L1850.78,590.49 L1851.72,590.40 L1852.65,590.30 L1853.59,590.21 L1854.53,590.11 L1855.46,590.02 L1856.40,589.92 L1857.34,589.83 L1858.28,589.73 L1859.21,589.64 L1860.15,589.54 L1861.09,589.44 L1862.03,589.35 L1862.96,589.25 L1863.90,589.16 L1864.84,589.06 L1865.78,588.97 L1866.71,588.87 L1867.65,588.78 L1868.59,588.68 L1869.53,588.59 L1870.46,588.49 L1871.40,588.40 L1872.34,588.30 L1873.27,588.21 L1874.21,588.11 L1875.15,588.01 L1876.09,587.92 L1877.02,587.82 L1877.96,587.73 L1878.90,587.63 L1879.84,587.54 L1880.77,587.44 L1881.71,587.34 L1882.65,587.25 L1883.59,587.15 L1884.52,587.06 L1885.46,586.96 L1886.40,586.87 L1887.34,586.77 L1888.27,586.67 L1889.21,586.58 L1890.15,586.48 L1891.08,586.39 L1892.02,586.29 L1892.96,586.19 L1893.90,586.10 L1894.83,586.00 L1895.77,585.91 L1896.71,585.81 L1897.65,585.71 L1898.58,585.62 L1899.52,585.52 L1900.46,585.43 L1901.40,585.33 L1902.33,585.23 L1903.27,585.14 L1904.21,585.04 L1905.15,584.95 L1906.08,584.85 L1907.02,584.75 L1907.96,584.66 L1908.89,584.56 L1909.83,584.46 L1910.77,584.37 L1911.71,584.27 L1912.64,584.18 L1913.58,584.08 L1914.52,583.98 L1915.46,583.89 L1916.39,583.79 L1917.33,583.69 L1918.27,583.60 L1919.21,583.50 L1920.14,583.41 L1921.08,583.31 L1922.02,583.21 L1922.96,583.12 L1923.89,583.02 L1924.83,582.92 L1925.77,582.83 L1926.71,582.73 L1927.64,582.63 L1928.58,582.54 L1929.52,582.44 L1930.45,582.34 L1931.39,582.25 L1932.33,582.15 L1933.27,582.06 L1934.20,581.96 L1935.14,581.86 L1936.08,581.77 L1937.02,581.67 L1937.95,581.57 L1938.89,581.48 L1939.83,581.38 L1940.77,581.28 L1941.70,581.19 L1942.64,581.09 L1943.58,580.99 L1944.52,580.90 L1945.45,580.80 L1946.39,580.70 L1947.33,580.61 L1948.26,580.51 L1949.20,580.41 L1950.14,580.32 L1951.08,580.22 L1952.01,580.12 L1952.95,580.03 L1953.89,579.93 L1954.83,579.84 L1955.76,579.74 L1956.70,579.64 L1957.64,579.55 L1958.58,579.45 L1959.51,579.35 L1960.45,579.26 L1961.39,579.16 L1962.33,579.06 L1963.26,578.97 L1964.20,578.87" stroke="#4aae7b"/>
</g>
<text x="1100.5" y="645.4" font-size="35" text-anchor="end">2.0</text>
<text x="1100.5" y="452.3" font-size="35" text-anchor="end">2.2</text>
<text x="1100.5" y="259.1" font-size="35" text-anchor="end">2.4</text>
<text x="1100.5" y="66.0" font-size="35" text-anchor="end">2.6</text>
<text x="1121.5" y="682.2" font-size="35" text-anchor="middle">0</text>
<text x="1262.0" y="682.2" font-size="35" text-anchor="middle">365</text>
<text x="1402.4" y="682.2" font-size="35" text-anchor="middle">730</text>
<text x="1542.8" y="682.2" font-size="35" text-anchor="middle">1095</text>
<text x="1683.3" y="682.2" font-size="35" text-anchor="middle">1460</text>
<text x="1823.8" y="682.2" font-size="35" text-anchor="middle">1825</text>
<text x="1964.2" y="682.2" font-size="35" text-anchor="middle">2190</text>
<text x="1496" y="733.7" font-size="36"><tspan font-style="italic">t</tspan> (day)</text>
<text transform="translate(1039,446.8) rotate(-90)" font-size="35.6"><tspan font-style="italic">c</tspan> (μmol·cm<tspan font-size="21" dy="-17.5" dx="1">-3</tspan><tspan dy="17.5">)</tspan></text>
<text x="1052" y="28" font-size="36">(b)</text>
<line x1="1594" y1="169.5" x2="1666.3" y2="169.5" stroke="#3a7cb9" stroke-width="7.6" stroke-linecap="round"/>
<text x="1676.5" y="181.3" font-size="35.2">Observation 1</text>
<line x1="1594" y1="213.2" x2="1666.3" y2="213.2" stroke="#dc9e2c" stroke-width="7.6" stroke-linecap="round"/>
<text x="1676.5" y="225.0" font-size="35.2">Observation 2</text>
<line x1="1594" y1="256.9" x2="1666.3" y2="256.9" stroke="#4aae7b" stroke-width="7.6" stroke-linecap="round"/>
<text x="1676.5" y="268.7" font-size="35.2">Observation 3</text>
</svg></body></html>
